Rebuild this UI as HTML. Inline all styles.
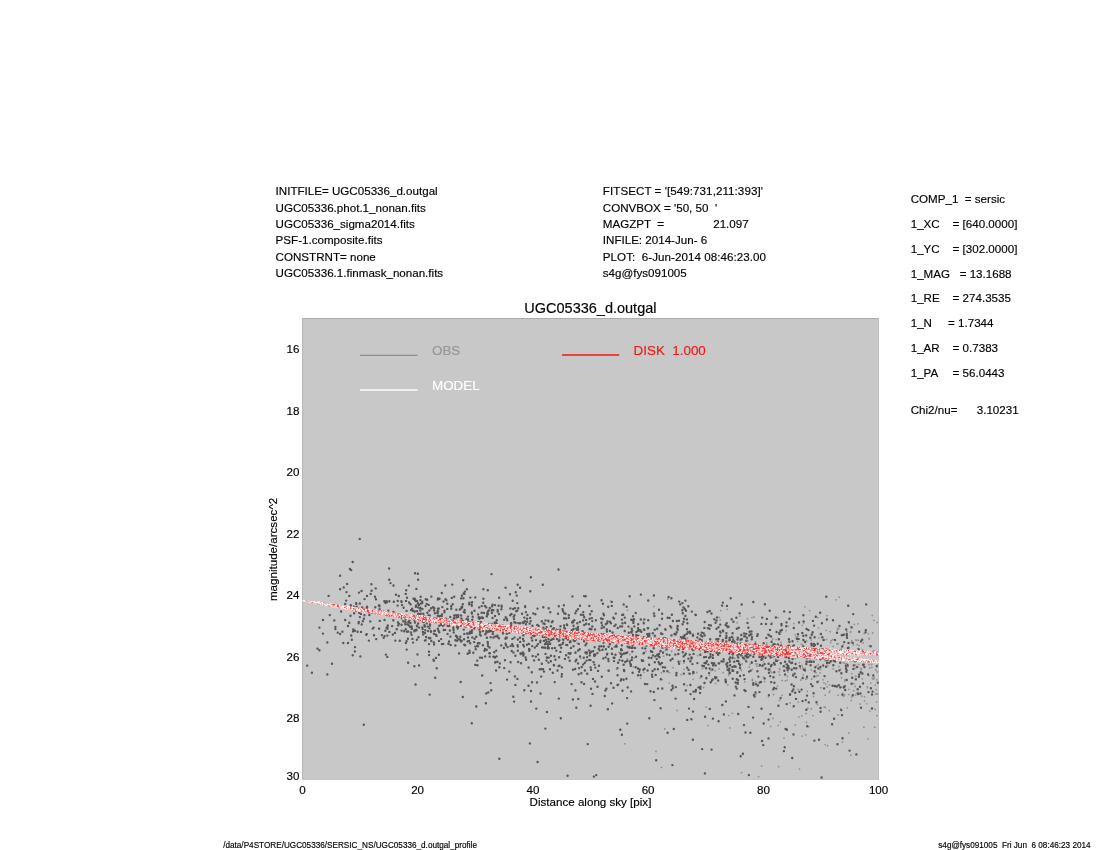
<!DOCTYPE html>
<html><head><meta charset="utf-8"><title>UGC05336_d.outgal profile</title>
<style>
html,body{margin:0;padding:0;background:#fff;}
body{width:1100px;height:850px;overflow:hidden;}
svg{display:block;}
text{font-family:"Liberation Sans",sans-serif;fill:#000;white-space:pre;stroke:#000;stroke-width:.15px;}
.t{font-size:11.6px;}
.tt{font-size:14.5px;}
.f{font-size:8.19px;}
</style></head><body>
<svg width="1100" height="850" viewBox="0 0 1100 850">
<rect x="0" y="0" width="1100" height="850" fill="#fff"/>
<text class="t" x="275.6" y="195.2" xml:space="preserve">INITFILE= UGC05336_d.outgal</text>
<text class="t" x="275.6" y="211.6" xml:space="preserve">UGC05336.phot.1_nonan.fits</text>
<text class="t" x="275.6" y="227.8" xml:space="preserve">UGC05336_sigma2014.fits</text>
<text class="t" x="275.6" y="244.2" xml:space="preserve">PSF-1.composite.fits</text>
<text class="t" x="275.6" y="260.6" xml:space="preserve">CONSTRNT= none</text>
<text class="t" x="275.6" y="276.8" xml:space="preserve">UGC05336.1.finmask_nonan.fits</text>
<text class="t" x="602.8" y="195.2" textLength="160.1" lengthAdjust="spacing" xml:space="preserve">FITSECT = '[549:731,211:393]'</text>
<text class="t" x="602.8" y="211.6" xml:space="preserve">CONVBOX = '50, 50  '</text>
<text class="t" x="602.8" y="227.8" xml:space="preserve">MAGZPT  =</text>
<text class="t" x="713.2" y="227.8">21.097</text>
<text class="t" x="602.8" y="244.2" xml:space="preserve">INFILE: 2014-Jun- 6</text>
<text class="t" x="602.8" y="260.6" textLength="163.2" lengthAdjust="spacing" xml:space="preserve">PLOT:  6-Jun-2014 08:46:23.00</text>
<text class="t" x="602.8" y="276.8" xml:space="preserve">s4g@fys091005</text>
<text class="t" x="910.7" y="202.8" xml:space="preserve">COMP_1  = sersic</text>
<text class="t" x="910.7" y="228" xml:space="preserve">1_XC    = [640.0000]</text>
<text class="t" x="910.7" y="253" xml:space="preserve">1_YC    = [302.0000]</text>
<text class="t" x="910.7" y="278" xml:space="preserve">1_MAG   = 13.1688</text>
<text class="t" x="910.7" y="302.2" xml:space="preserve">1_RE    = 274.3535</text>
<text class="t" x="910.7" y="327.0" xml:space="preserve">1_N     = 1.7344</text>
<text class="t" x="910.7" y="351.8" xml:space="preserve">1_AR    = 0.7383</text>
<text class="t" x="910.7" y="376.6">1_PA</text>
<text class="t" x="952.6" y="376.6">= 56.0443</text>
<text class="t" x="910.7" y="413.6" xml:space="preserve">Chi2/nu=      3.10231</text>
<text class="tt" x="590.4" y="312.8" text-anchor="middle">UGC05336_d.outgal</text>
<rect x="302.1" y="318.0" width="576.8" height="461.7" fill="#c8c8c8"/>
<rect x="302.1" y="318.0" width="576.8" height="1" fill="#adadad"/>
<rect x="302.1" y="318.0" width="1" height="461.7" fill="#b6b6b6"/>
<rect x="878.0" y="318.0" width="0.9" height="461.7" fill="#bebebe"/>
<rect x="302.1" y="779.0" width="576.8" height="0.7" fill="#bebebe"/>
<text class="t" x="299.5" y="353.0" text-anchor="end">16</text>
<text class="t" x="299.5" y="414.5" text-anchor="end">18</text>
<text class="t" x="299.5" y="476.0" text-anchor="end">20</text>
<text class="t" x="299.5" y="537.5" text-anchor="end">22</text>
<text class="t" x="299.5" y="599.0" text-anchor="end">24</text>
<text class="t" x="299.5" y="660.5" text-anchor="end">26</text>
<text class="t" x="299.5" y="722.0" text-anchor="end">28</text>
<text class="t" x="299.5" y="779.9" text-anchor="end">30</text>
<text class="t" x="302.4" y="794.1" text-anchor="middle">0</text>
<text class="t" x="417.6" y="794.1" text-anchor="middle">20</text>
<text class="t" x="532.9" y="794.1" text-anchor="middle">40</text>
<text class="t" x="648.1" y="794.1" text-anchor="middle">60</text>
<text class="t" x="763.4" y="794.1" text-anchor="middle">80</text>
<text class="t" x="878.6" y="794.1" text-anchor="middle">100</text>
<text class="t" x="590.5" y="806.3" text-anchor="middle">Distance along sky [pix]</text>
<text class="t" transform="translate(277.2,549.4) rotate(-90)" text-anchor="middle">magnitude/arcsec^2</text>
<line x1="360" y1="355.3" x2="417.5" y2="355.3" stroke="#8c8c8c" stroke-width="1.3"/>
<text x="432" y="355.3" style="font-size:13.4px;fill:#969696;stroke:#969696">OBS</text>
<line x1="360" y1="389.9" x2="417.5" y2="389.9" stroke="#ffffff" stroke-width="1.45"/>
<text x="432" y="390.0" style="font-size:13.4px;fill:#ffffff;stroke:#ffffff">MODEL</text>
<line x1="562" y1="355.1" x2="619.2" y2="355.1" stroke="#f01818" stroke-width="1.5"/>
<text x="633.6" y="355.3" style="font-size:13.4px;fill:#f01818;stroke:#f01818" xml:space="preserve">DISK  1.000</text>
<defs><clipPath id="pc"><rect x="302.1" y="318.0" width="576.8" height="461.7"/></clipPath></defs>
<g clip-path="url(#pc)">
<path d="M876.9 679.8h0M872.4 678.3h0M863.2 643.0h0M673.0 667.7h0M809.2 658.1h0M715.2 670.8h0M793.9 623.6h0M859.0 645.6h0M752.3 669.4h0M855.2 686.5h0M799.5 769.1h0M839.0 666.6h0M848.9 689.3h0M876.9 715.6h0M843.2 662.7h0M824.5 640.1h0M811.4 669.9h0M838.0 644.0h0M831.0 660.5h0M763.6 677.3h0M795.3 658.6h0M798.3 702.2h0M756.0 664.0h0M844.8 694.8h0M858.9 664.3h0M607.8 670.5h0M772.7 638.9h0M779.6 700.5h0M799.5 662.6h0M826.1 630.3h0M687.8 668.7h0M811.1 640.0h0M805.9 661.4h0M775.5 659.1h0M811.7 679.0h0M862.4 649.8h0M750.1 664.2h0M789.1 651.6h0M805.8 734.8h0M837.5 629.8h0M820.1 652.5h0M702.5 668.7h0M795.3 634.6h0M629.8 654.5h0M640.6 678.3h0M687.5 638.0h0M800.6 668.6h0M830.0 651.8h0M829.9 691.1h0M855.5 668.1h0M869.9 652.4h0M645.9 651.4h0M749.3 667.0h0M855.9 639.9h0M802.2 665.7h0M793.4 706.9h0M843.6 696.4h0M818.3 664.7h0M771.9 672.6h0M858.0 692.4h0M790.0 703.0h0M733.5 638.5h0M766.9 643.1h0M797.7 641.3h0M873.4 655.4h0M769.5 650.5h0M778.3 725.6h0M872.3 615.6h0M781.4 632.1h0M764.6 681.5h0M825.8 660.9h0M827.8 681.6h0M703.6 687.5h0M877.4 693.9h0M749.6 650.5h0M851.2 642.2h0M827.3 686.9h0M787.2 680.2h0M861.8 696.2h0M816.5 676.2h0M841.2 649.1h0M816.0 672.7h0M652.5 639.2h0M757.2 663.9h0M830.2 631.7h0M802.5 645.1h0M688.7 673.4h0M577.3 643.2h0M840.2 660.0h0M785.3 680.8h0M720.2 619.9h0M741.3 670.4h0M661.5 767.4h0M779.5 668.6h0M691.6 644.3h0M797.9 689.3h0M872.6 633.0h0M729.7 662.3h0M708.0 725.6h0M759.1 666.2h0M758.5 653.8h0M807.0 678.8h0M763.1 664.9h0M778.0 617.6h0M728.6 675.3h0M854.0 683.7h0M740.2 654.2h0M856.0 676.1h0M727.6 627.8h0M827.1 615.7h0M773.5 694.5h0M824.2 706.9h0M845.4 685.9h0M825.7 684.1h0M844.8 663.4h0M627.8 651.8h0M830.7 642.5h0M729.7 727.9h0M825.3 707.4h0M803.7 623.1h0M665.1 647.8h0M782.1 680.6h0M787.4 649.5h0M747.8 640.9h0M602.7 648.8h0M820.2 672.8h0M873.4 679.2h0M823.9 682.8h0M709.3 675.3h0M610.6 601.2h0M795.4 724.9h0M798.9 717.1h0M844.9 681.0h0M818.2 675.6h0M839.1 597.2h0M684.0 669.4h0M663.5 651.9h0M784.0 738.1h0M833.2 646.4h0M875.2 685.1h0M796.0 636.8h0M873.9 650.7h0M855.5 664.9h0M806.5 641.0h0M726.5 643.5h0M616.6 669.3h0M761.7 658.8h0M747.5 618.7h0M765.8 649.8h0M772.6 645.7h0M755.4 641.9h0M849.2 623.4h0M875.9 670.0h0M792.8 674.1h0M627.7 658.9h0M857.2 644.6h0M633.4 666.9h0M692.7 673.8h0M802.1 736.1h0M697.7 655.6h0M807.3 691.4h0M836.9 643.8h0M825.1 660.2h0M734.9 658.5h0M761.3 666.1h0M653.9 606.5h0M737.9 654.8h0M744.6 690.6h0M732.3 713.3h0M841.5 677.9h0M855.6 676.3h0M844.2 634.4h0M678.3 626.0h0M634.2 658.0h0M740.0 616.1h0M863.9 727.2h0M853.6 690.7h0M840.6 669.5h0M740.5 669.0h0M780.4 721.8h0M768.5 696.7h0M869.0 675.7h0M847.4 707.8h0M805.0 606.8h0M838.2 695.2h0M656.0 751.4h0M849.0 694.6h0M741.5 772.7h0M677.2 710.5h0M869.2 664.7h0M869.0 638.5h0M875.1 709.4h0M838.8 628.7h0M739.7 650.8h0M774.7 652.2h0M818.9 638.1h0M671.6 651.5h0M742.2 663.9h0M776.1 639.6h0M856.0 640.2h0M661.3 672.8h0M844.4 655.5h0M687.1 685.6h0M756.0 694.7h0M759.2 654.9h0M771.8 622.7h0M877.5 665.2h0M869.9 711.1h0M742.4 648.1h0M785.8 657.5h0M774.7 663.1h0M752.4 680.5h0M784.5 666.4h0M803.1 674.8h0M805.2 668.3h0M683.9 663.0h0M728.9 715.6h0M856.6 693.2h0M745.0 681.8h0M835.2 652.5h0M876.2 689.7h0M813.5 696.5h0M820.9 687.7h0M778.5 645.0h0M769.6 654.8h0M838.1 715.0h0M747.4 638.7h0M727.8 684.9h0M823.1 679.8h0M867.3 687.8h0M794.4 648.9h0M763.8 655.1h0M781.0 642.4h0M740.3 640.5h0M866.9 703.8h0M797.7 656.9h0M845.7 668.5h0M801.3 643.9h0M723.8 643.7h0M758.6 776.6h0M749.9 644.5h0M779.6 675.0h0M874.2 678.0h0M869.1 639.1h0M763.6 661.8h0M808.9 726.7h0M816.6 665.9h0M850.7 626.7h0M739.0 646.1h0M773.0 718.4h0M781.1 655.3h0M706.2 649.2h0M643.3 621.7h0M836.0 599.8h0M856.3 640.2h0M782.0 695.3h0M871.7 664.5h0M700.3 650.7h0M810.4 660.2h0M860.1 704.0h0M817.4 704.4h0M761.6 766.2h0M619.2 652.4h0M869.8 668.0h0M772.9 657.3h0M752.0 617.6h0M721.9 651.6h0M862.9 658.9h0M837.5 628.3h0M851.7 640.6h0M820.5 669.5h0M778.7 766.7h0M788.2 626.1h0M862.3 678.8h0M875.7 693.9h0M867.1 652.4h0M779.1 671.9h0M801.5 647.6h0M818.5 627.9h0M715.7 683.4h0M692.0 642.0h0M774.4 664.8h0M876.6 701.9h0M756.8 666.2h0M696.8 672.5h0M719.3 668.8h0M720.7 610.7h0M816.4 659.0h0M778.0 653.3h0M663.5 637.6h0M850.8 631.6h0M786.1 630.6h0M806.1 713.5h0M756.4 684.6h0M842.5 741.9h0M829.3 710.5h0M827.5 745.7h0M690.9 661.4h0M680.4 661.4h0M848.8 732.9h0M787.8 671.9h0M800.1 655.9h0M870.7 683.1h0M827.8 665.5h0M869.2 645.8h0M796.5 649.0h0M681.1 674.6h0M797.8 636.4h0M752.4 679.4h0M727.1 609.3h0M807.9 708.3h0M802.9 667.9h0M811.9 686.4h0M745.3 660.0h0M812.5 634.0h0M816.8 657.1h0M751.1 655.1h0M777.5 685.9h0M826.5 639.5h0M825.2 695.2h0M624.9 743.8h0M832.7 639.6h0M664.7 728.9h0M848.0 666.4h0M643.9 672.3h0M817.9 617.6h0M672.3 686.0h0M877.2 622.6h0M805.7 678.9h0M656.3 655.3h0M753.9 617.0h0M614.2 647.0h0M855.7 658.2h0M787.4 676.4h0M723.2 672.7h0M871.9 667.3h0M764.7 644.9h0M844.5 656.2h0M864.2 633.4h0M842.6 693.3h0M706.3 679.3h0M721.6 605.4h0M860.8 668.5h0M665.5 650.4h0M846.9 631.5h0M700.3 677.9h0M846.8 663.6h0M779.9 669.4h0M770.6 726.4h0M855.7 695.1h0M693.2 679.3h0M842.7 652.7h0M662.1 679.6h0M780.4 654.8h0M627.5 610.2h0M843.5 687.8h0M857.8 623.8h0M864.5 696.8h0M853.5 645.1h0M864.5 700.9h0M876.6 659.7h0M851.6 673.7h0M873.8 620.3h0M785.9 667.3h0M806.5 722.4h0M755.4 652.6h0M818.5 681.2h0M734.6 647.8h0M851.8 697.1h0M851.3 700.5h0M845.0 679.8h0M802.2 625.3h0M809.6 610.6h0M850.6 632.4h0M800.9 680.0h0M580.8 658.4h0M833.2 668.9h0M667.9 599.1h0M856.3 678.8h0M825.2 744.6h0M811.4 708.9h0M829.4 692.5h0M868.2 738.8h0M868.5 633.8h0M669.4 683.1h0M719.3 617.3h0M874.8 727.2h0M861.3 669.5h0M867.4 686.8h0M840.7 709.0h0M858.2 640.2h0M644.3 637.1h0M778.2 644.3h0M877.3 671.9h0M843.3 644.8h0M706.3 707.1h0M710.7 670.6h0M785.7 664.2h0M770.7 671.3h0M854.3 624.4h0M784.9 657.4h0M829.5 684.9h0M771.5 647.6h0M766.2 645.1h0M732.7 656.6h0M663.6 656.2h0M801.8 715.8h0M778.5 660.1h0M850.8 755.2h0M841.5 687.1h0M813.0 715.6h0M831.2 640.6h0M732.6 642.1h0M669.4 672.7h0M755.9 681.7h0M737.1 622.7h0" stroke="#909090" stroke-width="1.8" stroke-linecap="round" fill="none"/>
<path d="M359.7 538.9h0M352.7 562.0h0M349.9 569.0h0M351.2 570.1h0M340.1 575.8h0M347.1 584.0h0M343.7 587.4h0M340.1 589.3h0M346.5 592.1h0M328.6 595.9h0M346.1 600.6h0M345.2 604.0h0M350.8 605.3h0M341.1 611.5h0M329.8 615.1h0M323.0 620.0h0M334.3 620.4h0M345.2 620.0h0M319.4 627.6h0M335.4 627.0h0M335.4 629.1h0M323.0 633.6h0M337.7 632.6h0M340.1 634.0h0M342.4 631.7h0M348.0 626.0h0M327.3 642.4h0M343.3 643.0h0M348.0 643.0h0M351.2 635.5h0M351.8 639.8h0M317.5 648.6h0M319.4 650.2h0M352.7 655.2h0M332.0 663.7h0M307.2 665.6h0M311.9 672.7h0M327.3 674.4h0M355.0 647.1h0M349.3 595.9h0M350.5 615.7h0M349.3 622.7h0M523.0 652.4h0M545.0 644.2h0M372.7 628.6h0M787.1 664.5h0M682.4 603.1h0M505.0 660.2h0M515.0 608.1h0M548.5 621.3h0M384.3 601.3h0M660.4 651.4h0M770.0 629.9h0M504.2 619.8h0M572.5 631.4h0M703.8 647.7h0M812.6 632.3h0M592.5 693.9h0M701.7 632.6h0M692.7 642.3h0M704.0 666.3h0M441.2 623.6h0M483.0 618.0h0M395.3 640.6h0M806.6 629.0h0M541.4 669.1h0M445.5 599.3h0M490.9 630.7h0M546.9 712.0h0M623.6 679.8h0M762.5 665.7h0M559.0 630.9h0M388.4 610.8h0M531.5 637.7h0M543.9 640.9h0M675.4 634.5h0M607.0 654.5h0M532.9 635.0h0M430.0 624.4h0M630.3 636.7h0M545.5 620.4h0M632.6 647.8h0M776.2 688.6h0M472.0 630.5h0M499.7 630.2h0M854.4 659.4h0M460.3 636.7h0M794.2 656.1h0M699.8 639.1h0M746.8 654.7h0M560.8 718.3h0M442.3 607.1h0M429.7 694.6h0M537.0 682.4h0M694.1 699.0h0M463.8 629.6h0M479.3 618.7h0M830.8 661.2h0M659.3 663.8h0M632.2 630.6h0M584.1 641.2h0M601.6 628.1h0M524.1 633.8h0M647.2 634.1h0M758.4 653.9h0M585.7 596.3h0M621.9 619.6h0M489.3 623.9h0M794.0 646.1h0M479.3 629.6h0M434.1 644.6h0M861.0 707.7h0M608.8 670.7h0M437.8 615.9h0M520.2 641.9h0M643.9 629.5h0M621.9 734.7h0M863.1 683.4h0M495.0 657.5h0M488.8 610.4h0M652.6 671.0h0M576.3 707.8h0M773.9 663.0h0M591.2 651.7h0M420.8 613.7h0M410.5 623.1h0M513.1 646.0h0M615.5 654.8h0M642.3 644.3h0M843.7 634.7h0M791.2 663.1h0M714.1 663.3h0M686.9 619.4h0M381.6 613.8h0M438.7 608.5h0M810.0 655.3h0M594.2 654.4h0M491.2 690.2h0M481.3 626.8h0M553.4 635.5h0M458.5 624.0h0M562.7 643.8h0M512.7 600.7h0M698.2 640.9h0M557.5 670.5h0M733.2 670.8h0M682.3 610.2h0M426.1 637.0h0M786.9 729.7h0M717.0 617.4h0M422.9 631.9h0M682.6 624.3h0M609.9 639.7h0M634.0 619.2h0M739.8 646.7h0M460.7 682.0h0M553.8 664.9h0M755.7 660.9h0M486.3 632.7h0M651.1 639.9h0M716.4 677.5h0M624.2 671.0h0M844.5 686.4h0M589.0 650.4h0M658.3 639.4h0M853.2 614.1h0M722.3 705.0h0M366.0 610.2h0M589.6 629.0h0M794.1 668.2h0M793.5 734.4h0M826.3 596.7h0M662.3 688.5h0M497.5 636.7h0M844.2 642.1h0M621.3 679.1h0M641.3 631.7h0M737.5 639.6h0M419.8 608.3h0M509.3 671.6h0M697.4 637.4h0M437.9 628.8h0M614.0 661.1h0M426.3 620.2h0M532.5 631.5h0M569.7 660.7h0M550.9 626.2h0M419.1 665.4h0M806.0 654.4h0M587.1 657.1h0M811.3 643.7h0M601.5 600.2h0M558.5 666.1h0M483.4 589.2h0M627.2 723.6h0M692.9 641.2h0M763.7 723.5h0M512.5 629.1h0M687.1 667.6h0M659.0 654.0h0M668.6 597.0h0M691.4 658.5h0M476.3 706.5h0M514.4 622.2h0M488.1 611.2h0M472.1 602.2h0M457.0 637.5h0M618.1 684.8h0M783.5 653.9h0M451.3 608.8h0M702.3 636.5h0M864.4 667.0h0M384.6 636.1h0M525.9 612.1h0M744.8 636.2h0M527.1 644.6h0M499.9 663.4h0M859.2 674.5h0M580.0 605.8h0M548.7 608.3h0M368.9 640.6h0M755.5 692.5h0M487.9 643.8h0M531.0 701.5h0M490.6 628.1h0M749.7 652.2h0M848.2 605.8h0M853.8 665.4h0M578.7 674.2h0M774.3 656.1h0M525.1 607.1h0M763.7 651.7h0M387.0 602.1h0M524.0 646.4h0M397.1 615.7h0M725.6 624.9h0M706.9 661.2h0M701.8 640.2h0M548.8 657.6h0M482.9 645.3h0M524.3 690.2h0M474.5 610.7h0M873.3 675.5h0M833.0 620.2h0M415.6 684.5h0M841.3 710.1h0M489.5 647.5h0M678.5 661.6h0M427.2 599.8h0M459.8 609.5h0M709.1 657.8h0M640.7 675.3h0M560.5 644.9h0M718.1 654.7h0M514.5 615.2h0M571.6 684.1h0M456.5 617.6h0M575.5 652.4h0M438.3 608.9h0M689.4 632.6h0M617.8 627.9h0M626.6 606.8h0M860.6 660.1h0M606.4 688.8h0M785.9 656.5h0M449.1 641.5h0M624.9 641.8h0M824.1 688.4h0M750.7 670.6h0M641.8 660.1h0M573.5 625.7h0M583.1 620.4h0M610.0 643.9h0M447.3 603.8h0M420.4 600.1h0M761.3 659.8h0M617.6 675.2h0M737.3 672.7h0M439.7 620.0h0M387.4 635.6h0M497.4 661.8h0M616.7 638.7h0M520.5 653.4h0M709.8 649.8h0M631.6 632.5h0M811.3 661.7h0M560.0 629.6h0M542.1 647.4h0M486.2 693.4h0M701.4 676.2h0M370.7 593.9h0M823.2 665.5h0M695.9 641.0h0M540.5 640.6h0M662.3 633.9h0M844.7 658.5h0M403.3 621.2h0M491.7 610.4h0M648.2 600.5h0M738.1 680.1h0M632.1 657.4h0M847.0 637.8h0M689.8 631.6h0M515.4 655.7h0M728.6 626.8h0M744.2 636.4h0M408.3 622.0h0M529.1 648.9h0M492.6 604.8h0M766.9 618.9h0M466.9 589.3h0M489.7 656.6h0M524.6 621.6h0M478.6 617.6h0M793.8 706.1h0M733.4 621.8h0M464.3 633.9h0M367.1 607.2h0M534.1 660.4h0M685.8 653.7h0M387.5 628.7h0M848.8 622.1h0M411.8 628.3h0M786.2 626.3h0M405.4 622.2h0M575.5 652.8h0M501.4 609.2h0M617.5 685.0h0M369.3 615.0h0M722.9 630.5h0M805.7 654.7h0M459.1 653.4h0M610.7 640.9h0M449.9 630.5h0M848.5 643.0h0M720.2 643.1h0M766.7 645.4h0M682.7 613.3h0M366.2 634.7h0M826.1 666.7h0M595.0 629.5h0M748.3 645.0h0M795.6 664.0h0M442.0 614.5h0M595.6 634.0h0M453.6 629.9h0M434.9 613.2h0M627.1 660.8h0M735.6 682.5h0M554.7 682.1h0M738.0 643.5h0M461.4 618.5h0M562.5 609.2h0M596.2 638.7h0M565.5 613.8h0M746.3 661.4h0M732.2 637.3h0M709.8 611.0h0M517.3 603.1h0M727.4 665.7h0M575.4 613.2h0M841.4 673.3h0M761.5 656.8h0M638.3 641.4h0M846.8 633.9h0M729.6 637.9h0M788.2 666.3h0M712.3 643.5h0M539.6 631.1h0M572.8 638.5h0M537.9 631.0h0M629.7 596.2h0M558.8 641.0h0M686.0 610.8h0M471.6 604.7h0M781.5 624.0h0M640.8 619.5h0M493.4 656.8h0M576.7 634.3h0M481.6 612.8h0M578.0 609.1h0M801.6 689.6h0M426.7 623.4h0M484.3 627.9h0M475.7 649.2h0M768.6 719.6h0M763.2 745.1h0M793.4 689.4h0M631.7 659.9h0M491.9 612.9h0M611.9 653.8h0M614.5 657.8h0M598.7 648.9h0M572.9 621.3h0M687.4 623.2h0M842.0 715.1h0M607.5 621.4h0M730.0 661.4h0M602.1 625.4h0M463.6 593.4h0M506.8 618.7h0M617.5 668.1h0M768.8 647.2h0M510.1 631.6h0M732.4 643.7h0M379.1 628.7h0M672.6 685.8h0M676.8 621.0h0M464.6 609.9h0M753.4 684.4h0M546.7 641.6h0M648.1 628.2h0M579.1 668.1h0M650.9 651.3h0M778.4 705.8h0M360.4 656.4h0M602.6 619.0h0M691.4 648.3h0M712.0 680.2h0M809.5 654.7h0M730.7 651.6h0M759.4 657.1h0M736.1 643.9h0M842.5 738.2h0M359.0 592.6h0M782.1 651.1h0M805.0 642.0h0M546.0 629.5h0M771.6 641.8h0M683.6 656.4h0M764.9 604.3h0M722.2 605.6h0M789.4 618.7h0M578.0 627.0h0M501.7 606.8h0M574.8 641.1h0M808.3 650.5h0M712.4 669.5h0M771.6 665.0h0M842.2 646.5h0M461.5 606.9h0M768.6 663.8h0M475.3 597.4h0M817.7 643.8h0M454.0 617.9h0M543.5 623.4h0M549.4 633.3h0M766.4 637.9h0M363.8 724.8h0M608.3 658.9h0M762.1 741.0h0M486.3 631.1h0M379.8 620.9h0M593.6 662.1h0M561.6 676.6h0M649.3 718.2h0M559.4 645.3h0M469.4 602.6h0M725.5 679.7h0M429.0 651.8h0M708.4 648.1h0M523.1 623.1h0M605.7 657.4h0M455.4 645.5h0M468.8 633.5h0M587.8 744.1h0M682.9 638.8h0M785.1 661.8h0M643.5 653.4h0M492.9 624.0h0M528.6 667.5h0M520.0 637.8h0M463.9 624.5h0M488.3 692.4h0M838.7 652.3h0M823.5 640.0h0M532.0 682.2h0M789.9 612.1h0M467.6 641.5h0M447.6 625.7h0M398.9 623.7h0M496.8 620.3h0M659.0 609.8h0M737.7 683.8h0M529.0 643.9h0M611.8 601.9h0M492.8 634.0h0M545.7 632.6h0M625.9 640.3h0M416.4 629.7h0M726.4 635.8h0M622.5 690.7h0M470.4 632.2h0M484.5 650.8h0M455.4 640.2h0M655.7 674.9h0M729.5 673.2h0M612.1 654.1h0M424.9 633.0h0M430.3 638.2h0M845.2 690.0h0M793.9 686.3h0M530.7 621.1h0M581.7 667.0h0M798.0 634.2h0M483.9 612.9h0M389.4 631.9h0M363.9 618.7h0M685.4 600.6h0M817.4 651.9h0M496.6 656.4h0M679.2 601.6h0M503.9 648.0h0M416.2 605.4h0M597.9 637.6h0M418.1 607.4h0M480.8 635.6h0M793.9 645.5h0M725.9 638.1h0M674.7 645.8h0M622.0 654.5h0M359.2 612.8h0M611.0 683.3h0M758.4 676.6h0M810.4 637.8h0M739.1 663.7h0M434.1 610.5h0M624.8 617.6h0M751.8 639.2h0M660.6 708.2h0M572.4 596.4h0M671.9 614.8h0M506.8 637.8h0M554.9 647.9h0M586.1 619.9h0M429.1 655.1h0M523.0 653.6h0M856.4 660.1h0M377.9 612.6h0M635.7 613.0h0M557.5 632.2h0M537.3 624.9h0M549.6 633.1h0M654.4 700.1h0M584.1 683.9h0M631.3 619.7h0M786.7 704.1h0M819.3 649.0h0M618.1 662.8h0M683.8 673.6h0M375.2 612.6h0M514.0 619.1h0M660.8 679.2h0M614.4 626.1h0M568.8 617.9h0M751.7 662.3h0M785.1 674.5h0M385.6 602.9h0M538.8 659.8h0M658.7 639.0h0M820.5 708.0h0M678.6 649.7h0M518.3 623.1h0M851.6 683.8h0M730.2 665.3h0M769.2 635.4h0M541.2 676.6h0M647.8 628.3h0M387.4 627.1h0M537.4 630.4h0M532.2 646.1h0M401.6 630.6h0M436.6 635.9h0M550.9 655.7h0M472.3 619.8h0M723.9 714.4h0M546.2 643.0h0M417.5 654.4h0M495.0 615.9h0M516.2 611.2h0M445.9 618.7h0M648.0 635.2h0M508.9 631.8h0M729.3 659.3h0M422.4 608.9h0M537.5 608.6h0M720.1 631.7h0M448.4 643.7h0M738.4 661.2h0M457.0 627.1h0M373.6 627.6h0M652.3 676.8h0M581.3 673.2h0M760.6 651.5h0M801.4 654.3h0M768.5 738.4h0M398.2 625.4h0M745.5 691.0h0M575.6 661.3h0M740.8 643.5h0M719.6 650.3h0M840.3 687.4h0M776.0 660.8h0M638.6 629.9h0M458.7 639.1h0M724.2 650.0h0M586.6 660.6h0M510.2 615.2h0M781.1 645.5h0M441.8 593.0h0M789.4 661.5h0M542.3 631.4h0M721.4 661.4h0M523.3 635.4h0M747.0 657.0h0M410.1 626.7h0M691.4 719.3h0M485.0 648.9h0M793.8 628.0h0M839.5 626.0h0M789.0 668.3h0M521.1 663.2h0M546.9 657.5h0M682.8 652.2h0M612.5 632.5h0M438.9 654.7h0M374.0 635.3h0M732.5 670.8h0M576.4 610.9h0M623.2 614.8h0M439.3 632.3h0M648.8 657.8h0M594.7 647.2h0M778.9 639.3h0M652.8 633.2h0M692.9 650.0h0M452.1 621.1h0M397.7 600.9h0M631.2 632.0h0M413.0 610.7h0M805.6 651.3h0M631.7 628.8h0M653.7 638.9h0M661.9 662.9h0M806.3 664.0h0M750.4 732.7h0M558.8 698.6h0M759.9 665.0h0M548.5 639.2h0M464.9 591.6h0M679.1 663.8h0M441.2 624.9h0M786.5 622.4h0M740.1 676.0h0M405.3 624.3h0M707.5 612.0h0M658.2 656.0h0M450.3 616.9h0M428.7 604.9h0M715.0 677.2h0M532.7 656.0h0M371.6 590.7h0M709.7 668.5h0M559.5 665.7h0M392.8 634.5h0M375.9 599.3h0M598.6 637.7h0M657.1 645.5h0M594.2 655.8h0M496.2 650.6h0M490.6 683.1h0M757.7 634.3h0M685.4 639.1h0M710.7 682.2h0M741.3 635.0h0M566.1 655.2h0M522.7 622.5h0M476.3 636.8h0M590.9 634.6h0M387.8 625.5h0M734.5 695.4h0M395.0 632.9h0M759.6 682.6h0M607.4 638.3h0M488.2 624.9h0M467.6 653.8h0M669.5 655.1h0M812.6 686.1h0M451.8 597.9h0M464.4 593.9h0M693.7 643.0h0M570.5 642.0h0M528.6 631.5h0M649.2 664.7h0M675.3 654.6h0M427.9 626.6h0M780.4 630.7h0M698.1 633.7h0M742.1 652.8h0M515.4 684.9h0M499.1 597.8h0M422.2 603.0h0M543.3 607.3h0M750.2 655.2h0M616.5 645.5h0M846.4 671.8h0M836.8 686.5h0M761.5 708.8h0M687.0 629.3h0M827.3 660.2h0M564.0 618.2h0M682.2 637.8h0M490.7 637.3h0M690.4 685.0h0M652.0 674.6h0M809.4 661.8h0M527.1 618.7h0M437.8 599.6h0M816.5 702.2h0M762.4 659.0h0M509.2 632.9h0M831.6 655.5h0M404.2 631.2h0M370.3 621.4h0M715.0 650.5h0M408.1 662.7h0M814.3 676.4h0M424.3 616.4h0M740.6 639.5h0M538.6 625.9h0M737.0 660.9h0M491.9 609.9h0M645.2 641.8h0M714.3 619.2h0M729.8 639.9h0M573.1 622.2h0M839.3 670.4h0M550.9 661.3h0M523.3 655.5h0M518.7 630.5h0M620.8 680.6h0M683.5 607.5h0M726.9 626.2h0M522.1 613.7h0M470.2 643.2h0M731.8 637.0h0M469.1 604.3h0M629.9 637.4h0M443.5 601.5h0M375.7 588.4h0M782.3 652.6h0M540.2 642.2h0M590.7 667.4h0M588.9 637.6h0M751.4 634.3h0M477.8 643.2h0M553.1 629.0h0M446.7 620.6h0M523.1 653.9h0M803.9 669.8h0M769.0 672.7h0M545.8 639.6h0M567.2 625.1h0M656.8 659.1h0M548.5 662.6h0M552.2 648.2h0M595.8 620.3h0M820.4 667.0h0M621.7 639.8h0M643.8 623.2h0M415.0 622.5h0M649.3 635.0h0M726.3 641.4h0M659.6 625.2h0M810.8 652.3h0M872.1 658.3h0M517.3 610.6h0M573.6 629.0h0M802.7 678.0h0M549.2 641.9h0M659.5 657.3h0M645.0 684.0h0M632.9 635.0h0M770.9 666.3h0M774.3 672.2h0M814.0 645.9h0M688.6 669.9h0M447.6 633.9h0M773.4 644.4h0M463.8 611.9h0M834.9 686.0h0M852.2 677.7h0M488.2 631.6h0M718.2 653.9h0M507.2 620.3h0M433.8 642.4h0M794.7 673.6h0M370.3 610.7h0M470.3 597.6h0M578.7 643.9h0M505.6 587.8h0M401.8 618.3h0M666.8 654.4h0M472.3 637.4h0M667.4 671.3h0M379.3 605.5h0M482.9 631.1h0M389.4 601.3h0M642.6 637.7h0M622.5 642.2h0M422.3 601.6h0M439.0 640.9h0M527.1 621.8h0M414.5 620.3h0M414.7 598.6h0M545.6 629.2h0M459.8 639.5h0M820.6 711.8h0M768.3 634.6h0M473.4 626.0h0M559.5 640.1h0M820.5 658.0h0M764.6 678.4h0M482.0 657.7h0M677.6 625.9h0M595.4 667.6h0M846.7 670.1h0M738.2 657.5h0M533.8 636.1h0M768.6 669.5h0M747.5 623.0h0M766.0 624.0h0M536.3 708.6h0M744.4 690.1h0M744.1 633.4h0M663.0 652.7h0M510.0 594.2h0M849.6 750.6h0M485.3 634.2h0M477.2 645.9h0M712.8 655.3h0M711.5 613.5h0M566.3 644.9h0M665.3 629.3h0M361.6 591.0h0M593.2 651.1h0M538.7 631.3h0M495.3 636.4h0M700.0 644.7h0M785.0 647.5h0M855.8 679.4h0M822.3 637.3h0M872.0 694.5h0M629.8 661.5h0M777.9 644.8h0M406.0 600.9h0M702.8 645.5h0M586.2 623.7h0M550.3 612.2h0M829.3 662.7h0M791.3 652.2h0M588.1 633.9h0M371.4 584.3h0M428.9 638.0h0M745.4 656.0h0M753.3 602.0h0M693.6 672.5h0M552.8 629.3h0M438.0 608.7h0M769.7 610.7h0M438.1 618.5h0M516.8 595.6h0M858.1 694.0h0M848.5 647.8h0M489.6 631.6h0M858.9 676.8h0M792.5 641.3h0M518.2 608.2h0M705.1 652.0h0M543.4 627.6h0M489.4 653.2h0M787.0 667.8h0M480.8 622.0h0M748.7 653.9h0M514.1 701.6h0M716.3 639.2h0M532.4 625.8h0M810.6 665.2h0M704.4 643.5h0M569.9 642.3h0M703.6 633.2h0M793.2 646.1h0M748.9 775.1h0M743.1 657.7h0M722.7 641.3h0M497.4 635.7h0M464.9 612.6h0M707.9 628.1h0M523.7 654.0h0M425.8 599.3h0M776.9 660.9h0M411.0 610.1h0M651.4 658.0h0M462.7 620.8h0M761.5 650.1h0M575.6 633.0h0M563.1 611.3h0M471.8 723.2h0M857.7 689.2h0M603.9 627.2h0M591.7 611.3h0M564.5 633.9h0M583.3 615.0h0M456.3 609.8h0M745.5 732.5h0M730.7 598.2h0M732.0 642.0h0M684.9 655.1h0M376.2 639.1h0M591.9 618.1h0M433.8 660.8h0M770.2 649.2h0M420.4 607.7h0M485.3 627.2h0M725.9 701.4h0M737.5 655.4h0M359.8 603.5h0M551.9 639.4h0M633.4 621.0h0M680.9 637.1h0M480.8 617.8h0M407.6 624.2h0M660.4 664.4h0M583.8 657.8h0M563.1 642.8h0M478.9 617.2h0M385.9 654.6h0M559.0 637.2h0M685.8 690.4h0M774.4 682.8h0M479.2 607.4h0M688.3 606.3h0M433.5 659.7h0M725.7 681.2h0M438.5 630.8h0M834.1 718.7h0M784.2 611.4h0M665.1 667.4h0M505.8 637.7h0M744.1 658.4h0M417.1 601.3h0M578.3 698.9h0M538.1 654.5h0M406.2 590.2h0M753.3 684.7h0M356.6 606.8h0M716.5 628.7h0M673.8 729.0h0M792.5 659.1h0M710.5 656.7h0M847.9 648.0h0M485.6 624.2h0M585.5 645.3h0M748.2 646.9h0M474.2 628.5h0M525.6 657.4h0M632.3 620.0h0M517.7 584.8h0M437.6 611.3h0M635.7 667.3h0M860.9 641.4h0M503.9 628.0h0M872.6 691.6h0M713.6 648.3h0M488.0 614.3h0M462.8 697.0h0M663.3 638.7h0M386.6 601.2h0M542.8 584.8h0M714.0 650.1h0M446.4 600.2h0M586.6 653.6h0M842.5 694.7h0M471.8 632.7h0M705.1 663.1h0M436.0 657.9h0M700.1 692.9h0M554.1 665.4h0M470.2 631.8h0M858.6 648.9h0M425.6 606.1h0M411.5 634.7h0M502.8 631.7h0M468.0 637.5h0M689.7 673.7h0M792.1 662.7h0M583.1 635.6h0M414.8 611.5h0M474.1 642.1h0M599.3 646.5h0M390.5 583.1h0M628.5 626.6h0M806.9 649.9h0M595.0 681.5h0M590.8 629.0h0M605.8 624.2h0M695.8 615.0h0M635.0 647.9h0M670.6 660.3h0M741.7 604.5h0M826.9 619.5h0M396.0 594.7h0M583.5 637.5h0M846.2 629.5h0M475.4 646.6h0M466.6 618.9h0M471.8 612.4h0M704.1 657.3h0M438.1 611.4h0M591.4 629.2h0M425.3 630.3h0M425.0 618.0h0M818.4 668.5h0M590.5 660.1h0M700.4 688.7h0M847.6 665.3h0M362.2 607.5h0M573.5 646.3h0M622.2 614.9h0M698.5 687.4h0M454.2 596.8h0M652.4 642.9h0M545.3 647.7h0M680.7 646.4h0M602.6 636.8h0M692.9 739.7h0M475.3 664.9h0M567.8 639.6h0M541.8 663.8h0M420.0 619.3h0M424.4 625.2h0M393.8 601.7h0M722.8 640.0h0M605.9 649.3h0M791.7 669.8h0M723.1 650.3h0M487.3 612.7h0M662.1 613.7h0M496.0 622.6h0M443.9 624.7h0M726.3 664.3h0M862.2 639.8h0M572.1 634.3h0M381.9 635.1h0M718.7 663.4h0M735.6 666.8h0M647.2 684.1h0M716.6 652.7h0M774.0 687.9h0M453.4 627.4h0M402.0 605.1h0M425.6 640.2h0M479.5 643.3h0M632.9 639.7h0M505.7 617.2h0M675.7 634.4h0M489.9 653.2h0M757.9 685.5h0M515.6 622.7h0M399.8 640.8h0M813.6 693.3h0M415.8 601.0h0M630.9 664.8h0M389.8 615.3h0M469.5 652.8h0M727.0 605.9h0M408.1 631.5h0M499.3 758.8h0M420.7 617.9h0M747.1 657.5h0M398.0 622.4h0M504.2 628.5h0M408.9 585.6h0M441.8 615.9h0M576.5 639.3h0M414.4 666.3h0M601.2 634.1h0M728.9 670.6h0M530.9 577.2h0M431.0 631.7h0M443.7 630.0h0M654.8 662.2h0M671.4 690.0h0M492.6 617.9h0M410.9 632.4h0M568.6 636.8h0M749.3 635.5h0M697.4 663.1h0M529.6 649.6h0M814.4 740.6h0M708.4 664.6h0M592.2 621.1h0M763.7 643.2h0M405.7 629.2h0M771.2 682.1h0M457.2 636.7h0M515.7 592.3h0M738.2 714.0h0M408.6 625.3h0M625.2 662.0h0M462.2 606.9h0M580.0 656.5h0M783.7 666.3h0M469.7 633.2h0M552.8 672.7h0M458.9 623.4h0M640.1 630.1h0M770.5 714.1h0M751.8 662.8h0M428.4 615.4h0M575.5 633.7h0M622.4 660.7h0M356.0 610.6h0M487.2 614.6h0M669.5 618.0h0M746.3 633.9h0M496.1 670.5h0M585.4 652.5h0M771.4 624.1h0M876.7 666.3h0M481.7 606.1h0M512.2 644.3h0M397.6 605.6h0M604.8 696.0h0M849.0 656.7h0M663.8 671.3h0M860.7 672.2h0M576.2 628.6h0M806.8 661.7h0M799.0 622.4h0M563.9 605.2h0M644.0 653.0h0M545.1 630.8h0M662.8 667.3h0M564.3 627.9h0M367.0 595.9h0M823.0 655.9h0M603.4 613.6h0M489.8 608.0h0M543.5 631.2h0M784.3 670.8h0M364.4 615.3h0M472.7 616.8h0M642.2 660.9h0M454.3 615.5h0M555.5 635.6h0M865.8 630.1h0M418.2 613.7h0M438.1 615.8h0M706.1 668.3h0M558.2 632.7h0M723.6 659.3h0M740.0 665.0h0M710.4 654.3h0M590.1 614.3h0M529.9 743.4h0M833.3 665.2h0M715.6 665.4h0M765.6 657.8h0M704.4 627.9h0M567.6 775.8h0M676.0 640.2h0M768.9 695.1h0M520.1 623.2h0M803.3 646.4h0M837.5 744.2h0M431.3 641.0h0M577.3 623.3h0M761.0 682.0h0M584.9 662.8h0M736.4 617.7h0M465.6 626.6h0M577.0 638.2h0M806.4 709.7h0M415.3 599.7h0M709.8 708.9h0M741.7 639.2h0M780.8 663.3h0M821.9 623.2h0M735.8 686.6h0M424.7 625.9h0M450.6 645.0h0M601.8 676.8h0M832.1 724.3h0M684.2 637.5h0M711.0 650.9h0M596.2 775.1h0M437.3 613.1h0M425.0 626.5h0M493.6 630.5h0M438.1 598.4h0M426.7 603.9h0M517.8 646.6h0M418.1 579.8h0M712.9 718.6h0M638.2 624.2h0M542.2 647.4h0M863.8 655.0h0M643.4 669.8h0M709.1 673.1h0M378.9 605.4h0M357.6 631.7h0M662.5 647.8h0M790.0 694.8h0M815.3 667.2h0M860.4 693.5h0M868.1 674.4h0M495.0 605.1h0M680.2 604.4h0M734.2 661.8h0M427.4 612.8h0M662.0 618.8h0M647.2 642.6h0M360.9 613.9h0M480.0 657.6h0M401.6 602.0h0M469.7 652.4h0M590.6 705.7h0M448.0 619.6h0M693.6 653.9h0M621.9 650.2h0M523.3 644.9h0M578.1 663.4h0M693.2 673.0h0M383.7 637.8h0M729.3 668.7h0M704.5 683.0h0M354.9 630.8h0M457.2 640.7h0M492.8 628.0h0M563.4 639.8h0M638.1 675.2h0M616.7 646.6h0M704.7 635.4h0M780.6 698.1h0M606.9 631.6h0M865.6 632.3h0M773.5 677.3h0M732.6 658.0h0M545.5 653.9h0M354.9 608.0h0M807.0 676.8h0M413.5 598.7h0M354.9 651.4h0M520.1 587.8h0M807.2 726.2h0M456.2 615.3h0M621.0 656.7h0M498.6 605.7h0M450.4 636.6h0M757.3 635.9h0M838.9 654.7h0M505.5 638.8h0M736.8 628.8h0M540.9 634.5h0M461.9 595.8h0M696.7 641.3h0M385.0 601.9h0M704.9 649.7h0M740.0 667.7h0M494.7 656.9h0M808.5 630.1h0M517.9 639.5h0M527.0 644.8h0M577.3 630.4h0M827.0 663.0h0M665.5 629.8h0M358.8 621.9h0M527.8 633.7h0M707.0 651.2h0M458.1 627.1h0M654.7 669.2h0M523.8 622.5h0M464.7 624.8h0M543.7 647.6h0M802.7 652.7h0M551.0 640.1h0M760.5 682.1h0M552.7 621.1h0M761.4 623.9h0M407.9 638.8h0M584.2 625.0h0M354.1 613.3h0M546.7 627.1h0M624.0 670.0h0M621.1 649.3h0M813.7 644.0h0M675.8 687.1h0M546.9 657.7h0M632.3 651.6h0M572.1 622.5h0M564.1 625.5h0M566.1 618.5h0M593.1 638.0h0M468.3 621.5h0M707.7 651.5h0M691.8 657.8h0M691.4 657.4h0M517.8 650.7h0M606.8 629.4h0M639.7 669.5h0M653.0 655.5h0M748.4 627.7h0M695.7 691.5h0M493.5 637.5h0M787.6 669.9h0M788.9 639.2h0M805.8 700.1h0M366.7 634.2h0M416.4 630.2h0M499.3 667.2h0M584.1 596.1h0M737.4 672.2h0M674.5 633.9h0M720.1 635.8h0M855.1 661.2h0M789.4 641.7h0M467.1 633.5h0M620.7 641.6h0M812.9 620.9h0M535.4 614.3h0M433.9 633.7h0M619.1 637.7h0M779.5 633.9h0M686.7 633.9h0M582.6 631.3h0M486.3 607.4h0M418.9 604.9h0M709.0 625.1h0M452.3 584.6h0M620.5 653.5h0M431.2 608.2h0M452.7 604.2h0M792.3 691.2h0M652.2 651.9h0M763.1 655.0h0M693.3 671.9h0M715.9 647.2h0M379.5 606.2h0M485.7 627.8h0M595.3 654.7h0M732.4 667.1h0M409.8 619.3h0M875.8 659.8h0M841.8 635.3h0M621.9 645.2h0M602.9 603.8h0M820.9 634.0h0M654.8 635.7h0M807.0 695.6h0M684.8 609.0h0M421.8 618.4h0M690.4 633.2h0M364.5 599.1h0M420.3 610.6h0M768.1 655.3h0M736.8 679.2h0M733.1 640.1h0M560.4 651.9h0M510.6 646.1h0M581.5 682.3h0M692.3 647.0h0M410.5 604.3h0M811.8 655.9h0M433.1 607.2h0M478.0 646.2h0M833.7 660.8h0M725.9 682.2h0M511.3 623.8h0M601.5 646.2h0M469.8 633.5h0M424.9 640.6h0M485.2 656.4h0M567.3 645.1h0M405.7 593.9h0M498.9 614.0h0M582.5 633.0h0M690.3 661.3h0M613.3 617.7h0M730.7 647.9h0M821.6 777.5h0M488.0 646.1h0M693.0 711.6h0M445.1 629.9h0M727.6 669.7h0M407.9 616.2h0M558.3 630.2h0M718.5 627.3h0M597.4 653.1h0M742.9 753.8h0M814.6 637.3h0M546.4 636.7h0M796.4 668.3h0M464.3 644.7h0M434.3 630.9h0M798.6 638.9h0M560.3 633.3h0M805.3 656.4h0M857.2 667.0h0M725.6 650.2h0M482.2 675.5h0M778.0 656.9h0M636.4 631.9h0M453.4 628.7h0M667.6 617.7h0M650.5 691.2h0M406.6 641.1h0M700.8 635.2h0M586.9 634.2h0M678.3 654.0h0M711.9 663.0h0M528.5 685.7h0M769.4 669.5h0M863.2 654.2h0M605.4 690.5h0M660.8 645.1h0M611.0 623.2h0M671.6 644.3h0M529.2 650.7h0M792.2 758.0h0M660.6 651.0h0M554.4 656.3h0M550.2 643.9h0M406.6 610.9h0M667.6 732.8h0M702.1 749.1h0M822.9 649.5h0M551.9 622.3h0M638.1 630.7h0M832.6 685.7h0M594.5 664.6h0M604.0 634.3h0M723.1 631.3h0M773.2 689.4h0M471.9 613.6h0M661.0 633.5h0M852.7 642.9h0M774.8 664.4h0M362.8 621.3h0M794.4 648.8h0M840.2 662.7h0M512.4 638.9h0M416.9 639.8h0M783.9 751.1h0M473.3 652.7h0M786.7 657.1h0M525.1 606.2h0M517.6 645.1h0M497.7 609.9h0M424.1 621.7h0M706.4 677.9h0M755.3 644.0h0M598.0 670.9h0M408.9 622.0h0M748.3 657.0h0M396.8 629.3h0M589.0 624.3h0M480.1 632.0h0M720.2 624.6h0M506.8 633.8h0M501.3 645.4h0M589.1 637.6h0M407.1 631.7h0M435.2 677.8h0M553.8 628.1h0M687.2 719.9h0M514.5 637.6h0M587.2 673.8h0M604.0 615.3h0M811.1 684.1h0M549.5 634.8h0M568.8 615.2h0M736.7 688.6h0M550.0 669.2h0M685.4 615.9h0M389.1 568.5h0M570.2 653.8h0M663.3 644.3h0M612.1 703.4h0M461.7 640.7h0M534.6 635.8h0M584.9 670.5h0M375.3 607.3h0M511.5 614.0h0M696.5 641.6h0M739.8 650.2h0M587.0 652.5h0M591.0 669.9h0M776.6 632.0h0M705.9 663.2h0M405.6 619.5h0M586.4 635.4h0M730.4 644.4h0M732.6 633.2h0M653.8 692.0h0M870.9 688.3h0M639.3 637.1h0M764.6 664.1h0M609.9 644.2h0M353.3 629.4h0M754.2 647.6h0M461.2 598.4h0M735.6 644.6h0M536.0 640.1h0M443.8 622.9h0M403.6 607.7h0M494.8 622.5h0M718.2 680.5h0M359.9 617.1h0M824.5 676.1h0M515.2 629.3h0M414.3 631.2h0M447.3 608.9h0M629.1 647.0h0M533.3 613.4h0M526.0 624.2h0M672.4 765.1h0M478.1 614.4h0M702.3 665.8h0M576.2 635.7h0M496.9 623.9h0M630.3 663.7h0M805.0 670.4h0M754.6 696.6h0M561.9 674.2h0M458.2 616.7h0M759.5 692.1h0M732.7 678.8h0M568.6 653.2h0M774.7 644.1h0M511.1 623.2h0M804.1 654.7h0M855.3 653.5h0M583.2 612.1h0M497.5 628.4h0M741.4 655.6h0M659.1 645.4h0M573.0 669.8h0M737.1 649.1h0M611.8 605.9h0M573.5 634.1h0M594.4 656.1h0M622.1 626.4h0M361.7 624.4h0M607.3 653.6h0M736.2 647.8h0M644.3 629.8h0M441.1 639.1h0M415.1 573.2h0M732.9 653.8h0M648.2 620.2h0M697.4 647.9h0M420.7 596.8h0M579.9 621.9h0M548.0 646.7h0M560.5 626.3h0M846.0 668.2h0M523.0 638.9h0M486.8 616.4h0M599.6 650.4h0M803.4 615.2h0M594.1 637.8h0M777.7 644.8h0M676.7 632.3h0M416.9 625.8h0M653.8 648.3h0M524.9 621.3h0M568.5 633.6h0M418.2 623.5h0M513.7 616.8h0M660.6 642.6h0M434.9 630.7h0M454.0 618.2h0M527.4 615.0h0M561.1 647.7h0M576.4 659.7h0M711.0 644.4h0M541.8 621.3h0M446.0 621.1h0M638.3 635.7h0M489.4 631.1h0M641.8 638.6h0M534.8 647.6h0M719.5 652.9h0M439.3 625.8h0M784.6 655.7h0M748.5 706.9h0M868.5 692.1h0M695.9 690.0h0M405.9 643.0h0M710.9 644.0h0M536.7 645.9h0M439.4 616.6h0M621.1 650.0h0M479.9 634.4h0M643.6 637.2h0M789.2 654.3h0M428.1 631.1h0M799.8 666.1h0M713.4 664.2h0M520.6 654.0h0M564.3 613.4h0M565.0 628.4h0M526.1 659.8h0M634.3 626.4h0M414.7 630.2h0M566.9 624.5h0M723.5 661.4h0M429.4 610.5h0M548.1 644.5h0M779.3 632.9h0M622.5 623.2h0M564.9 658.9h0M644.5 668.8h0M513.2 609.0h0M859.2 631.8h0M636.2 637.7h0M407.0 597.8h0M716.6 620.4h0M358.6 623.3h0M757.4 671.2h0M561.9 667.4h0M710.2 639.3h0M608.5 661.1h0M589.6 618.7h0M630.8 665.9h0M609.9 621.8h0M530.3 591.2h0M693.5 691.6h0M393.1 614.8h0M793.1 675.5h0M514.9 676.4h0M734.5 641.8h0M417.9 573.8h0M469.4 650.7h0M496.7 620.5h0M647.6 670.5h0M738.8 627.8h0M503.1 633.4h0M676.5 673.0h0M781.5 625.3h0M495.3 662.3h0M356.3 603.9h0M796.0 698.9h0M513.3 696.7h0M786.4 647.3h0M737.8 682.8h0M549.0 648.1h0M491.5 624.7h0M656.2 760.2h0M487.8 590.2h0M486.7 649.8h0M477.2 660.6h0M535.9 656.6h0M593.9 776.6h0M632.6 672.7h0M704.6 643.6h0M646.4 645.7h0M635.0 638.7h0M837.0 632.8h0M578.2 650.5h0M727.4 662.9h0M815.8 616.8h0M749.0 671.6h0M477.5 665.3h0M409.5 620.6h0M870.7 646.2h0M564.2 637.6h0M771.1 636.5h0M835.0 639.9h0M704.7 622.0h0M601.1 618.5h0M672.9 621.0h0M645.3 648.4h0M684.0 618.7h0M558.5 569.5h0M695.4 614.7h0M387.3 656.9h0M744.0 725.1h0M353.8 606.7h0M629.1 643.4h0M802.5 701.1h0M678.5 645.7h0M484.0 626.0h0M615.8 613.6h0M558.0 613.7h0M583.2 664.4h0M720.6 632.5h0M789.2 647.0h0M836.4 671.2h0M531.8 672.3h0M780.7 646.6h0M411.6 626.4h0M416.4 588.9h0M624.0 653.5h0M570.9 647.9h0M658.0 688.6h0M471.8 605.7h0M872.0 708.5h0M613.5 687.7h0M755.8 649.8h0M819.0 739.7h0M654.0 613.4h0M393.3 620.2h0M729.3 653.5h0M461.1 615.5h0M649.4 633.7h0M431.0 631.2h0M491.7 623.9h0M511.7 651.0h0M687.7 632.3h0M545.4 728.6h0M419.5 614.6h0M356.2 603.1h0M460.7 625.6h0M570.6 653.1h0M740.6 654.4h0M593.0 678.9h0M821.0 645.7h0M520.7 628.1h0M682.9 648.9h0M828.2 657.3h0M443.2 643.9h0M790.1 694.3h0M654.4 616.0h0M553.4 638.9h0M498.9 638.3h0M628.5 647.4h0M441.9 644.1h0M393.4 612.0h0M468.0 619.4h0M367.0 606.7h0M758.7 646.2h0M631.1 691.4h0M575.2 669.0h0M635.8 639.5h0M752.0 637.1h0M763.3 656.8h0M609.9 630.9h0M491.5 574.1h0M846.7 679.9h0M632.5 645.3h0M607.1 623.2h0M615.5 646.5h0M423.1 634.4h0M537.7 630.5h0M611.9 648.8h0M546.7 643.6h0M860.0 686.8h0M665.2 638.1h0M633.5 641.3h0M690.6 694.1h0M497.7 611.5h0M495.2 662.5h0M463.5 598.2h0M727.2 666.7h0M820.2 612.7h0M603.9 646.5h0M613.6 657.8h0M806.2 635.4h0M599.0 665.8h0M620.2 626.4h0M439.5 598.8h0M594.6 636.7h0M730.0 672.7h0M389.2 579.8h0M487.7 642.0h0M589.7 655.4h0M624.7 631.0h0M575.4 690.4h0M813.7 661.7h0M557.0 639.0h0M729.3 640.3h0M657.4 641.7h0M789.0 658.3h0M806.8 658.4h0M753.1 717.6h0M415.1 600.2h0M803.3 635.8h0M863.7 664.8h0M648.2 636.1h0M671.5 635.4h0M469.9 625.1h0M409.1 602.5h0M478.3 622.1h0M546.5 660.6h0M448.1 621.4h0M601.5 622.8h0M667.5 643.8h0M683.6 621.7h0M470.3 624.6h0M539.7 669.3h0M483.2 602.8h0M709.5 642.9h0M544.6 624.0h0M660.3 643.8h0M689.0 708.6h0M835.2 661.4h0M500.7 628.3h0M538.7 633.5h0M620.3 729.7h0M398.8 596.0h0M615.7 624.6h0M791.6 684.5h0M639.1 671.8h0M691.8 611.6h0M532.2 640.5h0M722.9 602.6h0M677.3 628.3h0M655.4 656.4h0M692.4 664.1h0M638.0 668.5h0M636.1 656.8h0M524.4 617.6h0M573.7 640.5h0M435.9 634.8h0M863.1 664.7h0M513.5 652.6h0M679.0 620.7h0M627.0 652.8h0M800.1 666.6h0M725.7 644.8h0M537.6 762.0h0M696.2 645.4h0M501.6 605.8h0M493.4 610.3h0M750.5 634.5h0M712.9 657.9h0M814.9 645.0h0M614.1 618.6h0M704.9 773.4h0M862.4 673.5h0M392.1 626.1h0M753.3 656.7h0M692.2 643.7h0M672.5 658.7h0M693.0 635.8h0M544.0 671.6h0M686.4 645.2h0M640.5 631.2h0M683.3 636.6h0M505.6 643.8h0M385.4 630.7h0M556.8 629.7h0M684.0 661.0h0M628.8 637.4h0M429.8 615.4h0M843.9 687.2h0M694.1 649.4h0M574.3 620.2h0M626.4 678.7h0M422.6 629.0h0M731.7 619.3h0M510.6 662.2h0M633.0 616.3h0M506.0 645.2h0M730.2 657.5h0M430.0 625.6h0M700.5 686.7h0M482.0 617.5h0M484.9 606.0h0M578.1 629.5h0M544.4 636.9h0M688.4 658.6h0M548.3 620.8h0M463.2 580.2h0M365.9 609.7h0M811.7 634.8h0M429.5 628.4h0M654.7 629.8h0M789.1 645.6h0M644.3 619.4h0M782.5 654.7h0M513.4 627.7h0M613.9 636.7h0M846.8 635.4h0M657.3 654.8h0M451.2 606.2h0M643.1 660.8h0M739.1 653.9h0M439.2 622.7h0M627.1 698.1h0M803.4 640.0h0M566.2 638.0h0M468.0 616.6h0M726.7 623.3h0M711.6 749.6h0M753.9 695.0h0M851.7 627.4h0M709.4 628.7h0M770.7 657.6h0M811.7 645.6h0M795.2 692.7h0M423.4 622.0h0M568.5 657.4h0M636.3 634.9h0M715.3 678.2h0M638.1 628.2h0M401.5 624.8h0M746.3 640.8h0M803.6 621.4h0M588.6 635.4h0M558.8 606.3h0M542.9 636.9h0M504.2 668.1h0M386.6 627.8h0M375.0 596.7h0M444.5 610.7h0M666.7 649.4h0M693.1 634.7h0M676.3 675.3h0M449.1 625.9h0M571.9 630.3h0M811.0 656.1h0M677.8 629.7h0M631.5 647.7h0M517.4 678.9h0M852.8 695.2h0M437.7 613.1h0M418.1 603.5h0M740.7 756.3h0M442.9 625.7h0M649.6 637.3h0M455.9 635.8h0M756.0 684.1h0M619.5 660.1h0M718.4 638.9h0M510.9 625.5h0M684.7 635.3h0M603.3 658.4h0M620.9 640.1h0M474.6 638.8h0M494.2 652.3h0M412.1 608.6h0M705.1 716.8h0M817.4 682.0h0M483.4 598.7h0M597.5 686.7h0M654.0 641.8h0M563.1 638.9h0M719.1 663.4h0M653.9 595.5h0M461.0 641.5h0M486.9 637.8h0M808.8 702.4h0M589.4 605.9h0M710.5 646.9h0M785.6 729.0h0M453.7 632.5h0M629.7 647.5h0M715.6 622.7h0M523.7 641.0h0M602.4 649.9h0M589.2 659.9h0M770.2 676.1h0M556.3 650.6h0M574.3 632.3h0M732.4 670.3h0M765.6 668.5h0M385.9 601.4h0M592.3 626.5h0M820.4 659.2h0M419.1 627.6h0M874.1 658.8h0M361.0 631.9h0M710.9 643.6h0M417.2 626.2h0M814.6 671.3h0M510.4 608.4h0M469.2 633.6h0M692.3 649.0h0M706.0 656.9h0M684.1 684.3h0M762.2 617.6h0M632.9 643.4h0M465.2 645.2h0M462.8 604.3h0M657.2 628.7h0M623.7 604.5h0M415.8 606.7h0M507.6 647.1h0M547.9 648.4h0M856.4 754.4h0M521.0 653.5h0M571.2 631.1h0M445.3 585.5h0M458.3 615.2h0M695.8 648.3h0M713.1 665.4h0M814.1 625.6h0M718.6 721.3h0M640.9 594.6h0M429.0 644.1h0M779.5 652.8h0M642.5 648.1h0M444.4 612.3h0M436.7 668.2h0M775.9 617.5h0M529.7 623.5h0M732.7 654.4h0M464.1 639.2h0M434.3 608.2h0M754.4 654.0h0M456.6 623.6h0M542.7 631.4h0M623.7 664.7h0M570.3 641.3h0M469.1 640.9h0M796.9 638.8h0M743.8 675.1h0M672.9 688.1h0M412.4 638.9h0M749.7 631.7h0M657.9 669.3h0M734.3 666.3h0M608.6 646.8h0M759.8 646.5h0M633.4 622.9h0M393.5 585.5h0M845.9 665.8h0M572.9 699.5h0M853.4 668.9h0M353.1 631.4h0M413.1 642.6h0M628.8 632.8h0M401.4 601.3h0M877.8 682.6h0M411.8 628.9h0M670.2 626.1h0M649.2 640.0h0M871.1 659.4h0M739.6 613.3h0M457.8 628.5h0M537.9 644.1h0M675.6 698.6h0M802.3 632.9h0M431.4 596.6h0M671.4 598.2h0M485.9 703.3h0M584.2 617.2h0M418.5 637.2h0M543.1 669.2h0M726.4 633.1h0M787.9 646.2h0M531.0 691.0h0M540.5 693.5h0M648.9 636.4h0M607.9 709.3h0M717.9 641.4h0M552.6 636.5h0M384.5 620.0h0M838.8 685.2h0M658.6 661.9h0M627.7 687.4h0M770.1 653.2h0M795.9 677.1h0M591.0 688.7h0M613.4 642.1h0M625.5 653.3h0M603.5 642.7h0M492.9 631.8h0M477.9 625.4h0M406.7 649.6h0M379.6 609.1h0M417.0 611.1h0M503.0 625.3h0M461.5 608.2h0M625.1 622.7h0M518.2 662.0h0M608.2 606.8h0M704.5 663.0h0M665.7 639.7h0M700.3 654.8h0M744.6 679.1h0M590.0 653.0h0M492.1 606.2h0M781.9 629.9h0M579.8 649.2h0M726.4 637.8h0M712.7 679.4h0M521.5 630.8h0M581.0 614.7h0M507.5 626.2h0M729.7 651.4h0M420.9 617.4h0M627.6 646.6h0M619.8 640.9h0M689.7 654.6h0M784.7 747.2h0M558.2 630.6h0M383.4 611.6h0M671.2 627.4h0M710.9 625.4h0M793.3 649.6h0M559.1 657.3h0M736.5 646.4h0M555.4 659.7h0M594.0 635.4h0M530.1 617.9h0M649.5 644.6h0M746.8 637.6h0M751.5 631.4h0M799.3 691.8h0M587.2 639.2h0M548.5 630.0h0M495.0 624.5h0M507.1 679.6h0M420.8 603.6h0M586.5 643.4h0M366.7 607.9h0M423.3 613.7h0M866.2 604.4h0M422.4 627.5h0M440.2 615.9h0M753.3 683.1h0M770.2 656.6h0M737.8 637.8h0" stroke="#565656" stroke-width="2.4" stroke-linecap="round" fill="none"/>
<filter id="bl" x="-2%" y="-20%" width="104%" height="140%"><feGaussianBlur stdDeviation="0.45"/></filter>
<g filter="url(#bl)">
<polygon points="302.0,600.1 306.0,600.4 310.0,600.9 314.0,601.4 318.0,602.0 322.0,602.5 326.0,603.1 330.0,603.7 334.0,604.2 338.0,604.8 342.0,605.4 346.0,605.9 350.0,606.5 354.0,607.1 358.0,607.6 362.0,608.2 366.0,608.7 370.0,609.2 374.0,609.8 378.0,610.3 382.0,610.8 386.0,611.4 390.0,611.9 394.0,612.4 398.0,612.9 402.0,613.4 406.0,613.9 410.0,614.4 414.0,614.9 418.0,615.4 422.0,615.9 426.0,616.4 430.0,616.9 434.0,617.3 438.0,617.8 442.0,618.3 446.0,618.7 450.0,619.2 454.0,619.6 458.0,620.1 462.0,620.5 466.0,620.9 470.0,621.4 474.0,621.8 478.0,622.2 482.0,622.7 486.0,623.1 490.0,623.5 494.0,623.9 498.0,624.3 502.0,624.7 506.0,625.1 510.0,625.5 514.0,625.9 518.0,626.3 522.0,626.7 526.0,627.0 530.0,627.4 534.0,627.8 538.0,628.2 542.0,628.5 546.0,628.9 550.0,629.2 554.0,629.6 558.0,630.0 562.0,630.3 566.0,630.7 570.0,631.0 574.0,631.3 578.0,631.7 582.0,632.0 586.0,632.3 590.0,632.7 594.0,633.0 598.0,633.3 602.0,633.6 606.0,634.0 610.0,634.3 614.0,634.6 618.0,634.9 622.0,635.2 626.0,635.5 630.0,635.8 634.0,636.1 638.0,636.4 642.0,636.7 646.0,637.0 650.0,637.3 654.0,637.6 658.0,637.9 662.0,638.1 666.0,638.4 670.0,638.7 674.0,639.0 678.0,639.3 682.0,639.5 686.0,639.8 690.0,640.1 694.0,640.4 698.0,640.6 702.0,640.9 706.0,641.2 710.0,641.4 714.0,641.7 718.0,641.9 722.0,642.2 726.0,642.5 730.0,642.7 734.0,643.0 738.0,643.2 742.0,643.5 746.0,643.7 750.0,644.0 754.0,644.2 758.0,644.5 762.0,644.7 766.0,645.0 770.0,645.2 774.0,645.5 778.0,645.7 782.0,646.0 786.0,646.2 790.0,646.5 794.0,646.7 798.0,646.9 802.0,647.2 806.0,647.4 810.0,647.7 814.0,647.9 818.0,648.2 822.0,648.4 826.0,648.6 830.0,648.9 834.0,649.1 838.0,649.4 842.0,649.6 846.0,649.9 850.0,650.1 854.0,650.3 858.0,650.6 862.0,650.8 866.0,651.1 870.0,651.3 874.0,651.6 878.0,651.8 878.0,663.1 874.0,662.8 870.0,662.6 866.0,662.3 862.0,662.0 858.0,661.7 854.0,661.4 850.0,661.2 846.0,660.9 842.0,660.6 838.0,660.3 834.0,660.0 830.0,659.7 826.0,659.5 822.0,659.2 818.0,658.9 814.0,658.6 810.0,658.3 806.0,658.1 802.0,657.8 798.0,657.5 794.0,657.2 790.0,656.9 786.0,656.6 782.0,656.3 778.0,656.1 774.0,655.8 770.0,655.5 766.0,655.2 762.0,654.9 758.0,654.6 754.0,654.3 750.0,654.0 746.0,653.7 742.0,653.4 738.0,653.1 734.0,652.8 730.0,652.5 726.0,652.2 722.0,651.9 718.0,651.6 714.0,651.3 710.0,651.0 706.0,650.7 702.0,650.4 698.0,650.1 694.0,649.8 690.0,649.4 686.0,649.1 682.0,648.8 678.0,648.5 674.0,648.2 670.0,647.8 666.0,647.5 662.0,647.2 658.0,646.8 654.0,646.5 650.0,646.2 646.0,645.8 642.0,645.5 638.0,645.1 634.0,644.8 630.0,644.4 626.0,644.1 622.0,643.7 618.0,643.4 614.0,643.0 610.0,642.7 606.0,642.3 602.0,641.9 598.0,641.5 594.0,641.2 590.0,640.8 586.0,640.4 582.0,640.0 578.0,639.6 574.0,639.2 570.0,638.8 566.0,638.4 562.0,638.0 558.0,637.6 554.0,637.2 550.0,636.8 546.0,636.4 542.0,636.0 538.0,635.5 534.0,635.1 530.0,634.7 526.0,634.2 522.0,633.8 518.0,633.4 514.0,632.9 510.0,632.5 506.0,632.0 502.0,631.5 498.0,631.1 494.0,630.6 490.0,630.1 486.0,629.6 482.0,629.2 478.0,628.7 474.0,628.2 470.0,627.7 466.0,627.2 462.0,626.7 458.0,626.1 454.0,625.6 450.0,625.1 446.0,624.6 442.0,624.0 438.0,623.5 434.0,623.0 430.0,622.4 426.0,621.8 422.0,621.3 418.0,620.7 414.0,620.1 410.0,619.6 406.0,619.0 402.0,618.4 398.0,617.8 394.0,617.2 390.0,616.6 386.0,615.9 382.0,615.3 378.0,614.7 374.0,614.0 370.0,613.4 366.0,612.7 362.0,612.1 358.0,611.4 354.0,610.7 350.0,610.1 346.0,609.4 342.0,608.7 338.0,607.9 334.0,607.2 330.0,606.5 326.0,605.7 322.0,605.0 318.0,604.2 314.0,603.4 310.0,602.6 306.0,601.7 302.0,600.6" fill="#f23a3a"/>
<path d="M715.8 646.9h0M845.3 655.0h0M707.7 644.4h0M836.8 652.2h0M494.2 627.8h0M875.0 652.8h0M872.9 661.6h0M744.1 646.4h0M604.6 638.3h0M701.1 642.1h0M757.0 652.6h0M819.1 655.1h0M508.5 626.9h0M439.1 620.9h0M577.5 631.9h0M580.4 635.4h0M829.9 655.3h0M610.1 639.1h0M639.4 639.9h0M876.1 652.4h0M471.0 622.9h0M869.9 656.2h0M634.2 643.8h0M840.2 653.5h0M437.4 619.4h0M482.0 623.6h0M344.6 608.7h0M568.2 633.3h0M864.3 660.1h0M734.1 649.9h0M872.3 661.1h0M581.7 632.9h0M850.6 655.7h0M874.8 659.0h0M862.4 658.6h0M545.9 631.9h0M614.4 639.0h0M806.5 655.1h0M842.7 657.3h0M610.0 642.0h0M874.8 660.7h0M877.0 657.1h0M714.1 642.4h0M389.4 613.9h0M730.7 648.5h0M547.7 632.6h0M679.9 645.1h0M666.4 644.9h0M875.6 658.1h0M859.4 652.9h0M833.7 650.0h0M774.1 650.3h0M531.1 629.5h0M686.2 646.8h0M744.1 646.2h0M776.5 648.2h0M312.3 601.6h0M604.5 638.6h0M445.0 622.4h0M859.3 659.0h0M825.2 650.2h0M376.6 614.4h0M878.0 653.1h0M846.8 656.4h0M635.5 641.0h0M731.0 647.6h0M416.4 617.2h0M840.7 652.9h0M335.3 606.3h0M863.6 654.7h0M792.5 653.6h0M576.1 636.6h0M874.8 659.1h0M323.7 603.6h0M708.5 647.2h0M416.1 617.0h0M790.9 648.5h0M722.9 642.9h0M781.7 653.4h0M639.5 636.6h0M494.7 625.1h0M636.3 644.4h0M723.7 651.4h0M329.4 604.8h0M436.1 619.4h0M455.4 625.0h0M789.4 647.0h0M383.0 611.6h0M406.5 616.9h0M475.0 625.2h0M848.7 657.4h0M534.7 629.1h0M304.9 600.5h0M675.8 642.3h0M760.0 647.6h0M586.5 635.0h0M491.1 629.4h0M540.0 628.8h0M517.6 626.4h0M704.1 642.5h0M677.9 645.3h0M714.5 645.2h0M497.8 624.9h0M815.5 652.7h0M761.0 648.4h0M749.6 646.4h0M819.4 654.4h0M677.0 648.0h0M382.4 613.0h0M849.8 650.6h0M793.7 647.3h0M817.0 654.7h0M696.1 644.8h0M547.7 636.2h0M404.6 614.2h0M706.5 645.6h0M473.1 626.4h0M334.8 606.0h0M524.5 633.3h0M464.5 625.1h0M821.7 656.3h0M875.2 652.1h0M467.1 623.6h0M686.2 648.0h0M637.2 640.8h0M546.6 633.3h0M476.6 625.8h0M860.0 661.5h0M310.2 602.1h0M506.4 627.3h0M490.9 626.6h0M558.7 635.2h0M308.8 602.0h0M811.1 652.0h0M654.9 638.5h0M697.9 647.5h0M347.3 608.9h0M858.1 655.2h0M320.0 603.0h0M735.0 645.3h0M671.7 646.7h0M774.6 653.5h0M477.2 623.7h0M476.9 627.7h0M803.3 656.7h0M703.2 647.8h0M791.9 648.0h0M744.9 648.0h0M486.7 623.6h0M322.1 602.8h0M867.1 653.8h0M554.2 631.8h0M421.2 615.8h0M557.5 635.0h0M583.6 636.9h0M859.8 652.9h0M711.9 643.3h0M780.4 647.4h0M591.3 636.8h0M672.6 643.0h0M613.4 641.5h0M767.2 654.8h0M577.5 636.3h0M454.7 621.1h0M655.9 645.4h0M821.7 651.4h0M853.3 654.3h0M542.5 630.4h0M499.7 629.2h0M859.8 655.4h0M856.7 653.4h0M701.7 649.0h0M441.7 621.1h0M549.0 631.7h0M816.9 658.2h0M791.9 654.2h0M560.9 636.7h0M551.5 635.8h0M821.5 654.4h0M741.1 648.5h0M496.5 625.9h0M609.8 634.4h0M569.4 637.5h0M752.1 650.1h0M431.7 618.4h0M740.5 653.2h0M732.9 649.3h0M546.8 631.2h0M351.8 609.9h0M798.8 655.1h0M777.3 645.8h0M620.3 640.4h0M749.5 650.9h0M472.1 623.4h0M795.6 651.1h0M835.8 658.3h0M538.5 630.6h0M862.6 653.1h0M314.3 601.6h0M410.1 619.0h0M854.4 656.9h0M840.2 651.4h0M409.1 614.4h0M735.3 644.5h0M808.6 651.1h0M699.3 646.9h0M442.7 624.1h0M681.8 648.7h0M365.7 610.6h0M376.5 610.3h0M674.5 646.4h0M332.6 605.4h0M400.5 615.6h0M552.6 631.0h0M803.1 652.8h0M510.3 629.7h0M766.2 649.1h0M661.2 638.1h0M701.7 643.1h0M809.2 657.4h0M768.1 651.8h0M842.1 651.8h0M577.8 637.4h0M846.5 660.0h0M568.1 632.5h0M607.1 636.9h0M637.6 640.4h0M868.1 660.3h0M501.7 631.1h0M489.3 624.5h0M623.0 641.0h0M651.5 640.9h0M508.5 629.9h0M795.4 648.6h0M742.7 648.9h0M689.7 640.9h0M866.9 661.8h0M797.9 650.9h0M321.8 602.9h0M794.1 654.1h0M662.2 642.2h0M743.3 645.1h0M364.4 612.2h0M854.2 650.7h0M864.9 655.4h0M787.7 650.0h0M798.1 652.0h0M464.2 623.3h0M543.8 633.7h0M489.9 625.1h0M812.9 653.7h0M379.2 612.7h0M661.5 638.4h0M527.9 630.5h0M703.2 643.6h0M697.6 642.7h0M621.5 639.2h0M873.5 656.7h0M476.2 624.1h0M845.9 653.7h0M370.5 611.4h0M789.2 648.3h0M622.6 638.3h0M564.8 632.9h0M800.7 648.1h0M853.0 659.2h0M824.1 654.6h0M530.5 631.3h0M573.4 631.7h0M656.1 639.5h0M526.8 632.2h0M674.5 647.7h0M847.1 657.8h0M478.6 625.0h0M684.7 642.4h0M740.6 653.2h0M827.5 658.9h0M856.3 652.8h0M616.5 639.0h0M434.2 622.1h0M791.3 654.0h0M647.9 639.9h0M545.1 630.2h0M812.4 657.6h0M666.1 639.9h0M772.0 647.4h0M553.6 636.0h0M357.8 610.8h0M869.4 652.8h0M875.6 656.8h0M752.2 648.9h0M356.2 607.5h0M770.6 651.9h0M433.0 619.5h0M740.4 653.0h0M846.9 660.4h0M776.6 647.3h0M504.7 627.2h0M672.2 644.5h0M615.3 638.1h0M538.2 628.7h0M666.1 641.8h0M697.5 644.7h0M861.0 652.3h0M871.1 660.0h0M702.6 643.5h0M590.4 637.1h0M747.6 651.4h0M501.7 630.0h0M507.7 625.5h0M854.4 658.1h0M703.2 648.4h0M818.0 654.3h0M755.4 650.3h0M858.8 654.4h0M840.2 655.8h0M424.2 620.8h0M396.9 614.3h0M851.6 660.1h0M571.5 631.6h0M656.3 646.7h0M829.1 659.1h0M799.0 656.3h0M643.6 643.2h0M508.4 628.8h0M606.6 635.5h0M849.0 660.7h0M382.3 614.8h0M798.3 655.3h0M621.2 637.7h0M600.7 637.3h0M845.6 657.0h0M482.2 626.9h0M527.1 632.7h0M798.6 656.0h0M641.6 642.1h0M531.0 629.9h0M637.6 640.9h0M495.6 627.9h0M843.9 660.3h0M591.5 633.6h0M595.8 635.3h0M481.2 624.4h0M809.3 652.9h0M844.8 658.9h0M853.1 659.2h0M344.7 608.7h0M616.9 639.0h0M715.3 648.0h0M537.5 628.2h0M550.0 633.8h0M867.7 654.8h0M825.3 654.6h0M557.9 637.3h0M541.8 630.2h0M775.9 648.2h0M777.9 653.4h0M736.1 648.8h0M702.9 650.2h0M315.6 602.8h0M359.7 608.7h0M620.0 635.8h0M354.4 610.0h0M811.9 657.7h0M407.1 614.1h0M761.4 650.1h0M438.6 619.1h0M840.2 656.6h0M751.0 646.4h0M493.5 627.3h0M533.0 628.7h0M772.9 647.6h0M696.5 641.8h0M331.8 605.5h0M801.3 650.8h0M810.4 652.1h0M720.4 651.7h0M482.6 625.5h0M868.2 656.8h0M719.6 650.8h0M425.1 621.0h0M697.6 646.6h0M526.6 630.7h0M625.5 643.8h0M843.8 652.4h0M447.6 621.0h0M720.7 645.1h0M818.3 657.6h0M447.9 622.5h0M434.6 621.3h0M749.9 645.4h0M706.1 650.0h0M531.9 628.5h0M732.5 645.3h0M466.6 624.1h0M589.6 638.2h0M823.4 656.0h0M839.5 652.6h0M588.7 636.3h0M468.5 627.4h0M722.9 648.9h0M836.3 654.2h0M872.3 662.3h0M578.7 634.1h0M365.4 610.1h0M784.2 648.3h0M642.1 645.5h0M702.6 643.5h0M789.0 649.3h0M483.8 628.9h0M385.3 614.4h0M394.0 615.3h0M842.5 658.3h0M709.3 644.7h0M676.5 643.6h0M833.1 656.8h0M401.7 613.5h0M580.4 639.8h0M837.3 651.2h0M650.0 643.6h0M612.0 641.0h0M839.5 651.5h0M379.6 613.4h0M836.1 654.7h0M568.6 635.2h0M738.4 649.3h0M612.7 640.2h0M836.5 660.2h0M705.2 646.9h0M858.8 660.5h0M790.2 656.9h0M822.9 649.7h0M620.8 637.6h0M476.2 628.2h0M830.3 657.6h0M512.2 630.6h0M836.9 655.4h0M611.2 639.8h0M490.9 628.2h0M342.9 608.6h0M382.5 613.4h0M594.8 633.9h0M801.4 648.7h0M775.1 651.7h0M478.0 626.2h0M714.1 649.8h0M810.7 648.8h0M758.8 650.0h0M569.0 631.5h0M573.5 635.8h0M497.2 627.0h0M796.5 651.0h0M477.9 625.2h0M493.3 624.0h0M609.4 634.7h0M728.8 643.8h0M859.9 656.4h0M779.7 654.6h0M704.9 648.7h0M832.5 651.0h0M826.1 649.6h0M451.8 624.1h0M671.6 647.6h0M756.0 654.4h0M675.9 641.8h0M805.7 652.9h0M820.5 658.2h0M468.6 626.5h0M811.9 658.4h0M771.3 654.3h0M484.6 629.3h0M571.2 634.3h0M817.4 658.2h0M404.3 616.9h0M876.5 656.6h0M707.2 642.3h0M832.7 656.7h0M419.2 616.0h0M792.8 654.1h0M509.4 625.8h0M857.2 653.9h0M384.9 613.5h0M575.6 639.3h0M424.0 621.5h0M760.8 648.1h0M633.0 640.5h0M877.2 657.8h0M649.0 641.0h0M606.4 637.4h0M380.8 613.2h0M751.9 644.8h0M735.4 648.9h0M735.8 645.9h0M676.2 640.1h0M588.7 637.7h0M851.3 659.3h0M660.8 638.8h0M825.9 656.3h0M610.2 634.9h0M478.6 623.7h0M775.2 655.6h0M645.0 637.7h0M528.4 627.9h0M801.0 650.9h0M742.2 650.3h0M623.7 638.1h0M734.5 646.4h0M525.0 629.6h0M709.3 649.5h0M696.8 647.4h0M767.7 651.9h0M832.8 651.4h0M673.4 648.0h0M586.3 632.4h0M866.9 652.8h0M866.3 653.6h0M759.9 646.5h0M455.8 620.5h0M445.1 623.0h0M655.5 640.5h0M585.1 638.0h0M804.5 651.4h0M779.8 651.6h0M826.8 652.4h0M793.7 648.4h0M659.3 640.5h0M840.1 652.7h0M851.9 656.0h0M497.9 630.8h0M614.6 640.9h0M558.1 631.1h0M473.0 627.6h0M654.1 640.8h0M620.8 642.8h0M517.0 627.7h0M538.4 634.0h0M399.7 615.5h0M641.0 636.9h0M828.9 652.3h0M694.3 643.6h0M801.9 650.6h0M529.0 631.6h0M685.7 648.4h0M573.8 635.6h0M435.6 620.8h0M727.1 645.1h0M643.4 640.6h0M838.1 660.2h0M865.2 660.1h0M833.7 656.6h0M641.0 637.8h0M874.3 662.6h0M864.3 659.9h0M756.7 645.6h0M843.1 658.5h0M366.2 610.4h0M543.8 636.1h0M543.2 634.1h0M840.6 660.0h0M622.5 635.4h0M653.3 642.2h0M807.2 657.9h0M655.0 642.9h0M597.7 637.8h0M372.7 612.3h0M381.1 612.0h0M445.9 621.4h0M832.2 650.4h0M687.8 645.5h0M544.8 632.4h0M827.5 650.1h0M828.6 652.9h0M525.2 627.9h0M874.9 661.5h0M407.1 616.9h0M826.1 657.0h0M515.8 629.8h0M864.1 656.3h0M694.4 649.0h0M749.9 653.6h0M743.3 644.7h0M852.0 652.2h0M534.7 630.4h0M581.9 635.8h0M878.5 661.9h0M800.1 650.3h0M386.8 613.0h0M696.8 644.2h0M739.2 646.4h0M857.4 661.0h0M634.7 637.1h0M596.0 634.8h0M614.6 640.7h0M840.9 656.2h0M608.2 636.7h0M513.6 632.2h0M413.6 617.4h0M557.6 633.6h0M831.4 650.5h0M432.9 620.8h0M624.8 642.9h0M605.1 640.5h0M349.0 608.1h0M874.6 657.0h0M695.4 641.8h0M329.4 605.2h0M523.3 630.5h0M520.7 633.1h0M854.4 654.2h0M833.6 655.5h0M804.5 647.5h0M873.9 657.4h0M853.9 653.6h0M371.2 610.9h0M688.9 647.9h0M875.6 660.4h0M847.0 651.3h0M360.0 608.3h0M866.9 651.8h0M825.0 656.8h0M501.5 630.0h0M769.8 653.3h0M684.5 640.4h0M391.5 613.8h0M649.2 638.0h0M504.9 631.7h0M868.8 658.0h0M674.1 641.9h0M808.7 657.1h0M598.3 636.4h0M352.5 608.9h0M395.2 613.9h0M767.1 651.8h0M855.3 655.5h0M586.0 633.9h0M708.0 647.2h0M872.0 658.4h0M542.4 633.2h0M322.6 603.5h0M818.4 648.4h0M561.9 636.1h0M720.8 649.7h0M838.6 649.6h0M428.3 618.4h0M329.8 604.2h0M363.3 610.7h0M860.7 652.4h0M520.2 631.7h0M697.6 649.5h0M366.4 609.6h0M669.0 644.1h0M642.8 640.4h0M407.7 619.0h0M719.2 648.5h0M501.1 625.2h0M737.6 648.4h0M314.3 601.9h0M357.7 609.7h0M838.1 654.2h0M480.8 624.9h0M727.1 651.3h0M849.2 658.3h0M349.1 607.3h0M481.4 625.8h0M765.0 647.1h0M665.8 644.4h0M741.5 643.8h0M487.6 626.5h0M809.8 648.7h0M736.7 651.4h0M764.8 647.2h0M680.3 648.0h0M478.8 622.9h0M400.8 613.4h0M311.8 602.2h0M589.0 637.8h0M474.1 622.2h0M505.2 628.9h0M718.9 644.2h0M763.8 645.1h0M800.8 647.7h0M823.2 652.8h0M668.6 643.0h0M833.5 652.9h0M780.8 652.8h0M793.3 653.0h0M557.5 633.1h0M865.7 653.4h0M826.3 651.6h0M755.3 650.3h0M448.0 624.4h0M859.0 653.5h0M481.7 624.1h0M830.5 657.9h0M501.8 628.2h0M813.0 654.1h0M411.2 614.6h0M437.0 620.7h0M871.4 655.2h0M733.1 651.2h0M781.6 652.1h0M494.9 630.1h0M730.1 643.1h0M500.1 627.4h0M641.0 642.9h0M874.9 657.9h0M600.8 635.0h0M779.1 652.7h0M822.1 654.9h0M870.0 658.3h0M836.6 653.5h0M758.0 653.3h0M687.5 643.2h0M749.5 651.6h0M768.1 653.5h0M444.4 622.1h0M874.5 656.0h0M840.2 659.5h0M322.3 604.9h0M667.0 644.5h0M854.3 653.7h0M317.4 602.2h0M608.6 635.0h0M781.1 651.1h0M731.0 644.9h0M732.1 650.0h0M525.4 631.0h0M859.9 658.4h0M676.4 642.9h0M727.8 647.9h0M803.1 648.9h0M357.1 609.0h0M720.4 642.4h0M568.3 631.7h0M681.8 645.0h0M717.8 642.3h0M376.9 612.2h0M778.6 655.1h0M557.4 635.3h0M502.7 628.3h0M443.4 620.9h0M599.7 640.5h0M802.4 657.1h0M805.3 647.6h0M485.0 627.8h0M752.1 645.5h0M875.4 651.7h0M358.2 610.4h0M586.7 633.6h0M876.6 657.8h0M748.3 648.8h0M773.2 652.1h0M857.5 661.0h0M704.0 645.6h0M842.5 652.3h0M311.6 601.6h0M614.9 638.0h0M870.2 655.3h0M370.7 610.8h0M640.6 644.0h0M586.9 637.9h0M660.7 643.1h0M829.8 651.9h0M528.5 629.4h0M481.1 625.0h0M562.2 635.2h0M648.6 641.2h0M848.6 661.0h0M740.7 648.1h0M513.5 629.5h0M560.5 634.9h0M816.7 653.8h0M798.0 653.9h0M862.3 659.5h0M750.8 645.6h0M483.0 625.7h0M696.8 643.9h0M754.8 645.7h0M818.5 656.4h0M640.1 641.3h0M416.9 618.4h0M713.7 648.6h0M789.9 651.6h0M529.4 633.4h0M331.2 603.9h0M601.8 640.3h0M715.9 645.8h0M538.1 631.3h0M786.9 655.4h0M533.0 631.7h0M669.0 646.7h0M845.8 660.0h0M604.4 641.3h0M827.9 658.0h0M822.5 655.7h0M713.2 646.9h0M518.0 631.0h0M486.6 626.4h0M742.7 644.1h0M801.0 657.4h0M641.1 637.9h0M777.9 646.8h0M576.7 634.8h0M872.9 657.2h0M624.7 641.1h0M876.2 662.6h0M539.7 631.2h0M699.5 647.2h0M397.6 617.7h0M453.2 624.0h0M569.9 631.0h0M717.2 643.4h0M544.0 630.3h0M616.9 642.8h0M830.4 657.5h0M800.7 652.8h0M625.7 642.4h0M855.8 657.9h0M763.5 654.9h0M863.5 659.8h0M538.8 631.6h0M655.7 646.4h0M868.0 651.8h0M764.2 654.6h0M644.1 638.4h0M552.3 633.8h0M768.4 652.2h0M603.2 635.6h0M390.9 613.4h0M399.5 615.5h0M874.9 658.5h0M778.1 655.7h0M820.7 657.1h0M761.6 652.5h0M791.2 651.2h0M575.3 634.4h0M846.5 657.1h0M346.7 607.3h0M761.8 645.6h0M408.5 617.1h0M490.9 628.9h0M769.9 654.3h0M417.9 616.6h0M676.6 642.4h0M527.6 634.3h0M638.8 642.3h0M531.3 632.2h0M410.1 615.7h0M668.1 646.1h0M657.6 645.5h0M562.5 632.1h0M753.6 650.5h0M375.6 610.7h0M669.2 642.7h0M452.4 625.4h0M842.7 652.2h0M787.9 650.3h0M456.9 622.9h0M740.8 651.7h0M769.9 648.6h0M412.7 618.0h0M849.7 651.0h0M794.0 652.3h0M544.1 633.1h0M671.0 644.0h0M378.8 613.3h0M852.7 656.1h0M828.5 657.1h0M507.1 629.3h0M793.6 651.4h0M871.2 659.4h0M690.1 648.1h0M566.3 633.3h0M854.1 657.3h0M485.6 626.5h0M467.8 626.0h0M348.8 606.7h0M811.9 653.3h0M592.3 639.7h0M724.4 650.1h0M509.8 630.3h0M360.3 611.8h0M321.4 602.6h0M648.2 638.2h0M696.8 649.4h0M573.8 637.7h0M636.7 643.0h0M811.4 652.2h0M347.7 608.8h0M638.6 639.5h0M867.1 654.7h0M579.0 636.9h0M460.4 624.3h0M507.7 626.0h0M810.8 648.2h0M665.0 638.5h0M841.0 653.7h0M383.0 614.4h0M385.6 612.7h0M632.0 641.4h0M596.8 641.4h0M328.0 604.3h0M840.0 658.6h0M391.4 613.1h0M501.3 625.4h0M544.7 634.0h0M576.6 638.3h0M618.8 639.1h0M569.4 633.6h0M303.3 600.4h0M327.7 604.4h0M630.2 643.2h0M519.2 632.3h0M833.6 653.6h0M452.9 624.9h0M405.5 615.2h0M852.2 657.3h0M363.8 610.9h0M482.6 624.4h0M593.2 636.6h0M830.1 659.7h0M624.0 635.6h0M349.5 608.9h0M495.8 629.1h0M326.0 604.3h0M612.0 634.6h0M532.4 634.4h0M592.2 633.7h0M875.7 662.2h0M506.4 625.8h0M757.5 653.9h0M769.8 653.1h0M725.8 651.6h0M859.1 654.6h0M606.1 636.4h0M611.2 636.9h0M649.6 638.4h0M564.2 634.0h0M792.2 648.0h0M847.5 651.9h0M732.3 645.6h0M383.3 612.5h0M767.3 649.5h0M759.9 646.8h0M763.5 646.8h0M357.3 608.7h0M588.9 638.2h0M512.7 629.1h0M427.6 619.7h0M512.7 627.1h0M705.8 649.0h0M838.1 654.5h0M858.0 651.1h0M814.1 652.0h0M847.8 654.5h0M668.4 641.6h0M641.8 639.8h0M476.2 625.1h0M629.3 644.1h0M703.3 642.3h0M872.7 652.9h0M508.2 626.6h0M630.8 636.0h0M567.4 634.0h0M714.8 647.1h0M856.9 655.0h0M310.1 601.8h0M827.5 651.9h0M859.2 659.3h0M635.0 640.5h0M370.4 611.4h0M863.0 656.1h0M577.7 639.5h0M733.1 645.0h0M394.9 616.7h0M427.2 620.8h0M622.9 643.0h0M543.1 631.4h0M508.2 630.2h0M827.5 657.5h0M831.5 653.2h0M562.2 632.3h0M357.7 608.2h0M455.5 624.2h0M443.3 619.9h0M440.9 622.1h0M861.6 654.1h0M791.8 647.6h0M754.7 646.4h0M532.9 627.9h0M827.6 658.7h0M843.8 660.5h0M714.6 643.8h0M582.3 635.9h0M851.0 660.5h0M851.9 650.9h0M671.1 644.3h0M582.6 638.9h0M442.4 619.8h0M613.4 640.8h0M793.5 650.2h0M597.8 636.2h0M855.7 658.6h0M793.7 653.7h0M468.1 626.4h0M861.5 652.6h0M836.3 655.1h0M804.8 653.0h0M698.7 646.3h0M827.2 656.1h0M573.6 638.0h0M806.9 650.6h0M702.4 648.1h0M837.2 656.4h0M714.8 649.3h0M585.5 636.9h0M432.1 621.5h0M859.2 654.3h0M357.2 608.3h0M705.4 648.5h0M634.0 643.8h0M334.8 607.2h0M384.8 611.9h0M573.3 638.4h0M703.1 645.5h0M836.5 654.1h0M746.7 648.0h0M848.9 653.5h0M557.7 631.7h0M475.5 625.3h0M693.0 641.1h0M614.2 641.5h0M862.1 656.1h0M664.4 642.1h0M468.3 627.3h0M452.5 622.8h0M850.1 655.1h0M876.2 659.2h0M749.3 652.5h0M442.9 620.8h0M409.0 614.9h0M871.0 660.9h0M455.6 620.7h0M742.1 646.2h0M626.0 640.3h0M760.1 652.6h0M870.7 661.1h0M842.9 651.6h0M595.5 634.6h0M512.1 632.5h0M725.6 648.8h0M793.8 653.2h0M535.8 634.6h0M716.0 646.0h0M641.4 639.8h0M386.0 613.1h0M578.3 637.8h0M669.8 640.8h0M834.7 652.2h0M869.7 655.3h0M356.5 609.7h0M707.5 641.3h0M641.3 641.7h0M788.8 655.1h0M595.4 640.1h0M595.0 638.8h0M581.5 636.1h0M374.9 612.9h0M620.2 637.6h0M644.0 639.5h0M845.4 651.0h0M707.2 645.0h0M761.2 653.8h0M807.5 657.5h0M862.9 659.2h0M625.1 642.3h0M814.4 656.4h0M325.0 604.8h0M842.1 651.5h0M510.5 631.4h0M703.5 644.2h0M517.0 632.6h0M871.3 652.3h0M711.1 649.8h0M846.7 652.5h0M318.0 603.1h0M694.1 647.9h0M807.5 657.1h0M708.9 642.2h0M552.4 637.0h0M423.4 620.6h0M528.9 631.7h0M789.3 647.0h0M571.1 634.8h0M791.3 651.3h0M339.9 606.3h0M492.8 625.1h0M832.3 655.5h0M607.1 638.4h0M837.9 650.9h0M845.4 650.5h0M468.7 622.4h0M304.0 601.2h0M588.2 639.6h0M717.3 646.8h0M720.9 642.5h0M379.0 614.3h0M720.0 642.6h0M339.9 606.5h0M639.9 637.4h0M353.1 609.5h0M746.3 651.4h0M602.0 637.2h0M716.9 650.6h0M596.3 640.4h0M614.4 639.1h0M732.8 645.3h0M420.6 618.2h0M746.6 647.5h0M845.5 658.1h0M850.2 651.4h0M741.8 651.8h0M551.6 635.7h0M800.9 655.2h0M438.4 618.5h0M522.2 626.7h0M728.0 651.4h0M860.9 654.7h0M639.3 639.1h0M587.1 639.3h0M655.0 638.5h0M863.3 658.9h0M601.3 641.5h0M547.5 635.7h0M676.6 643.8h0M855.1 653.0h0M831.1 653.2h0M647.0 639.5h0M555.5 631.9h0M864.8 659.1h0M826.0 653.0h0M483.4 622.8h0M644.8 642.7h0M394.9 615.5h0M489.6 627.1h0M718.2 648.7h0M519.5 627.2h0M614.2 640.3h0M596.7 639.6h0M327.0 603.6h0M597.0 635.1h0M556.2 633.6h0M663.3 644.0h0M831.2 659.3h0M478.1 623.7h0M840.9 659.0h0M563.0 638.0h0M585.7 634.0h0M864.6 651.4h0M860.6 656.0h0M792.7 648.5h0M512.2 628.0h0M860.1 655.9h0M303.1 600.8h0M859.3 655.4h0M369.4 611.3h0M756.7 654.0h0M849.4 653.5h0M743.5 652.2h0M366.3 612.0h0M493.0 625.6h0M631.9 643.1h0M811.5 656.0h0M749.4 646.2h0M696.8 645.3h0M611.3 634.6h0M658.9 641.3h0M625.2 637.2h0M862.0 657.5h0M315.9 602.3h0M695.1 646.4h0M672.1 640.8h0M804.3 655.5h0M829.6 657.3h0M449.0 622.6h0M683.0 640.5h0M475.0 626.4h0M552.9 636.2h0M842.2 660.3h0M703.8 643.1h0M709.7 644.8h0M512.4 632.0h0M766.8 653.8h0M432.3 622.7h0M352.6 607.5h0M855.2 659.2h0M326.5 605.8h0M478.6 622.5h0M824.9 655.2h0M759.1 650.2h0M570.5 637.6h0M740.9 644.7h0M813.3 658.1h0M801.7 655.9h0M720.0 645.7h0M832.7 658.2h0M547.5 629.2h0M832.6 653.0h0M547.8 634.3h0M663.0 644.5h0M403.8 615.4h0M852.0 651.6h0M540.6 628.9h0M629.5 640.6h0M595.3 638.7h0M783.7 648.4h0M843.6 659.4h0M512.4 627.1h0M443.0 623.7h0M448.8 622.0h0M488.8 627.4h0M417.3 620.3h0M465.6 622.0h0M728.0 650.0h0M638.7 640.9h0M771.9 651.8h0M460.1 623.8h0M724.4 649.7h0M870.4 656.9h0M705.8 644.5h0M343.3 607.9h0M450.5 622.9h0M716.7 649.7h0M858.8 656.0h0M458.7 625.0h0M392.9 613.9h0M867.1 653.1h0M830.1 652.0h0M729.9 650.5h0M670.7 647.6h0M732.1 649.2h0M634.3 639.5h0M467.9 627.3h0M569.3 631.1h0M871.2 659.6h0M464.4 621.5h0M649.7 639.4h0M683.5 644.3h0M695.7 645.5h0M640.9 644.8h0M866.7 659.4h0M833.9 658.2h0M836.7 653.0h0M671.0 647.9h0M486.0 628.6h0M521.7 627.3h0M466.7 626.3h0M465.6 621.8h0M661.4 641.4h0M848.2 655.4h0M409.5 619.0h0M830.6 654.7h0M750.8 652.6h0M537.9 631.5h0M313.9 602.2h0M847.1 652.2h0M476.1 626.5h0M538.7 634.4h0M427.5 618.6h0M665.2 643.2h0M848.8 652.0h0M870.1 657.7h0M862.9 656.7h0M415.1 619.8h0M316.0 603.7h0M817.9 657.0h0M700.3 645.4h0M708.2 647.7h0M735.4 650.7h0M588.0 638.9h0M391.8 614.3h0M648.4 640.2h0M692.5 645.6h0M851.3 651.1h0M810.8 652.5h0M856.3 652.7h0M727.2 652.0h0M837.2 652.8h0M833.6 656.7h0M356.2 610.6h0M319.2 602.3h0M817.7 658.5h0M612.9 641.2h0M781.8 647.6h0M859.1 653.4h0M813.5 651.8h0M853.4 659.4h0M861.5 657.5h0M671.1 638.9h0M369.4 611.8h0M860.9 651.2h0M650.4 640.8h0M632.6 637.8h0M778.6 648.0h0M598.5 636.2h0M648.8 645.5h0M869.1 651.3h0M431.3 620.2h0M783.7 651.5h0M662.0 642.6h0M802.1 654.1h0M373.8 613.8h0M849.9 660.6h0M760.0 651.9h0M557.0 630.3h0M829.7 656.2h0M867.0 652.0h0M309.6 602.4h0M492.9 626.3h0M390.4 614.0h0M536.8 632.9h0M365.7 612.1h0M727.0 643.1h0M730.0 644.3h0M475.6 622.3h0M731.0 643.2h0M813.0 653.8h0M869.7 655.0h0M412.3 618.7h0M453.9 623.6h0M684.0 641.5h0M472.1 625.7h0M516.0 632.1h0M729.2 647.7h0M517.4 632.7h0M506.1 629.3h0M532.4 629.1h0M815.5 655.5h0M827.2 653.6h0M779.4 653.7h0M437.9 621.7h0M509.5 629.3h0M813.1 649.6h0M346.7 607.7h0M809.5 650.4h0M833.9 655.4h0M821.1 649.9h0M369.3 610.8h0M715.7 645.7h0M652.2 642.2h0M322.6 602.7h0M769.9 650.1h0M860.0 657.4h0M669.3 639.9h0M796.3 648.7h0M672.5 641.6h0M499.4 629.2h0M779.1 648.8h0M869.6 652.0h0M840.4 653.4h0M822.5 656.5h0M562.8 632.5h0M754.3 650.5h0M839.4 652.9h0M516.5 632.1h0M816.3 656.5h0M773.1 654.8h0M617.2 642.0h0M454.7 625.1h0M766.3 648.7h0M713.1 650.0h0M825.9 653.3h0M568.8 632.1h0M365.6 610.2h0M842.6 659.5h0M796.5 656.9h0M375.8 611.4h0M477.7 626.8h0M826.3 655.9h0M482.8 625.6h0M844.7 659.6h0M877.2 660.8h0M465.4 624.6h0M333.8 606.0h0M585.2 634.9h0M825.0 649.6h0M310.2 601.9h0M557.4 634.5h0M756.3 649.7h0M434.6 620.6h0M474.5 623.2h0M600.3 636.4h0M859.8 651.9h0M458.2 621.8h0M390.5 615.2h0M619.5 638.7h0M556.5 636.8h0M823.2 650.6h0M587.0 633.1h0M751.9 648.9h0M644.1 645.2h0M713.4 642.2h0M875.2 656.5h0M652.6 638.7h0M748.6 652.4h0M647.8 643.1h0M878.4 662.5h0M634.8 640.3h0M710.7 650.0h0M519.5 627.3h0M376.5 611.9h0M798.5 655.3h0M672.6 639.0h0M449.1 619.5h0M316.3 603.1h0M466.1 624.2h0M700.4 641.0h0M573.3 634.0h0M749.2 650.8h0M433.4 620.1h0M459.7 622.9h0M869.1 658.8h0M806.8 654.3h0M462.5 621.7h0M697.9 640.6h0M742.3 648.6h0M666.3 640.2h0M849.8 653.4h0M678.7 645.5h0M611.8 637.9h0M545.2 630.5h0M793.9 648.8h0M640.1 639.6h0M773.2 653.8h0M859.3 651.8h0M392.7 616.8h0M783.2 646.3h0M402.6 616.3h0M750.6 652.5h0M581.1 636.9h0M394.3 616.2h0M856.7 652.8h0M591.8 633.4h0M823.6 651.7h0M641.0 640.0h0M427.0 621.9h0M534.7 631.2h0M687.1 649.1h0M844.8 650.3h0M541.6 629.2h0M802.9 652.6h0M738.6 650.0h0M514.9 632.7h0M659.4 645.0h0M317.7 602.0h0M831.8 650.1h0M448.7 622.9h0M660.0 643.0h0M370.7 612.1h0M738.0 650.4h0M520.1 630.6h0M683.5 646.9h0M646.3 639.3h0M563.0 631.8h0M817.0 657.9h0M870.6 661.1h0M331.2 606.0h0M547.8 633.6h0M805.5 653.4h0M596.8 637.5h0M832.6 651.3h0M854.0 652.5h0M700.6 644.4h0M647.8 644.8h0M519.6 632.0h0M527.8 628.7h0M323.0 603.6h0M835.3 654.9h0M686.5 649.1h0M469.6 622.5h0M830.4 649.2h0M873.9 662.4h0M542.0 630.7h0M600.1 638.7h0M330.8 604.3h0M833.5 652.1h0M387.7 613.8h0M678.2 648.1h0M340.8 607.5h0M773.3 649.8h0M629.6 639.0h0M858.8 657.5h0M825.4 657.1h0M567.6 636.9h0M584.7 635.0h0M735.7 648.0h0M388.0 613.0h0M629.7 636.5h0M467.3 623.2h0M717.1 649.3h0M416.4 619.8h0M355.4 608.1h0M750.4 652.2h0M615.6 640.3h0M725.2 651.0h0M455.0 624.5h0M738.2 650.2h0M866.4 655.7h0M579.2 634.2h0M498.8 624.9h0M783.5 655.9h0M325.1 603.6h0M411.9 617.1h0M461.4 623.8h0M554.5 631.0h0M632.8 637.9h0M702.8 647.5h0M416.2 619.4h0M568.0 634.2h0M696.1 649.3h0M627.9 637.2h0M594.9 638.2h0M578.8 634.1h0M652.8 641.0h0M437.3 620.7h0M649.2 641.3h0M793.4 657.1h0M507.2 625.4h0M864.5 657.5h0M347.4 606.9h0M639.3 638.9h0M867.8 657.9h0M729.3 647.8h0M401.4 614.3h0M648.0 641.1h0M371.9 609.5h0M709.8 649.8h0M650.8 640.5h0M389.8 612.3h0M402.7 618.4h0M547.8 633.4h0M610.4 637.7h0M605.5 641.0h0M875.6 656.7h0M457.1 620.2h0M583.3 635.8h0M319.2 603.7h0M797.8 652.4h0M823.8 656.2h0M352.1 609.4h0M336.5 605.0h0M853.4 655.6h0M582.1 632.6h0M448.9 620.2h0M664.8 645.4h0M852.4 660.1h0M652.4 639.7h0M584.6 637.7h0M317.4 602.4h0M639.0 639.5h0M616.1 641.8h0M812.3 651.1h0M520.0 630.7h0M386.4 612.8h0M745.1 648.5h0M876.2 662.0h0M478.7 627.9h0M692.4 647.0h0M722.4 644.0h0M759.6 644.8h0M869.8 657.3h0M439.6 621.3h0M837.9 657.9h0M492.8 630.2h0M685.2 645.0h0M760.9 650.9h0M674.2 648.1h0M871.2 659.9h0M676.6 642.6h0M873.2 657.9h0M432.5 617.9h0M657.3 642.4h0M858.4 656.4h0M628.5 638.0h0M872.8 656.5h0M521.4 629.0h0M855.4 660.7h0M818.4 650.1h0M838.0 658.8h0M494.6 627.5h0M443.6 623.8h0M422.6 617.3h0M476.7 624.2h0M679.4 641.5h0M318.5 602.1h0M605.5 635.9h0M338.0 607.6h0M493.3 630.0h0M749.6 647.0h0M789.1 655.7h0M505.9 627.7h0M781.0 647.5h0M692.6 640.3h0M573.0 633.0h0M581.9 634.2h0M798.6 647.8h0M515.8 628.8h0M359.2 610.6h0M812.9 657.0h0M855.9 652.9h0M850.0 650.8h0M707.3 646.0h0M868.4 656.7h0M858.7 652.3h0M535.8 631.9h0M814.8 654.2h0M874.0 655.8h0M720.2 647.2h0M615.8 640.3h0M661.1 642.8h0M406.3 618.7h0M853.5 650.6h0M537.3 632.6h0M549.8 629.4h0M572.1 637.6h0M818.5 650.7h0M320.9 602.9h0M842.3 650.0h0M360.4 608.6h0M537.6 632.3h0M589.9 634.0h0M866.5 662.2h0M827.6 657.1h0M716.4 649.5h0M380.6 611.7h0M428.2 619.8h0M398.0 616.5h0M539.8 633.8h0M732.0 647.2h0M473.5 626.2h0M414.5 618.4h0M626.8 642.1h0M802.6 652.5h0M540.4 634.7h0M784.3 652.6h0M388.0 612.8h0M650.7 638.0h0M807.1 650.7h0M359.6 610.7h0M834.1 659.1h0M875.8 658.4h0M539.5 630.6h0M586.5 634.5h0M347.2 609.1h0M737.4 651.6h0M827.5 656.8h0M458.2 622.1h0M653.8 643.3h0M351.9 609.2h0M431.8 619.5h0M744.3 645.9h0M459.3 624.3h0M304.5 601.0h0M875.7 656.9h0M865.8 660.2h0M875.1 653.8h0M341.8 607.0h0M613.9 636.3h0M851.7 650.4h0M448.7 623.9h0M503.6 625.1h0M437.9 618.9h0M552.6 631.2h0M790.0 652.7h0M828.0 649.9h0M370.3 609.4h0M843.0 660.6h0M877.7 662.2h0M802.5 653.2h0M536.2 632.6h0M820.9 651.5h0M424.2 620.4h0M599.9 638.8h0M476.4 622.2h0M741.4 645.2h0M524.3 629.6h0M381.9 613.4h0M619.6 637.3h0M715.2 646.6h0M604.7 637.3h0M678.1 645.1h0M325.4 605.5h0M721.8 651.8h0M818.2 657.6h0M460.9 624.0h0M635.8 644.6h0M371.5 612.4h0M799.6 652.0h0M742.4 646.6h0M670.5 645.0h0M516.8 632.9h0M779.5 648.6h0M870.1 656.7h0M722.1 647.4h0M358.0 611.1h0M868.9 654.0h0M817.1 650.5h0M597.6 638.6h0M834.9 654.7h0M794.9 656.8h0M761.4 652.3h0M507.7 630.8h0M862.7 661.6h0M604.7 634.2h0M674.8 644.7h0M556.7 632.3h0M358.6 609.5h0M857.4 655.2h0M840.7 650.4h0M847.0 650.5h0M557.9 637.6h0M840.8 651.5h0M845.1 656.8h0M748.4 647.7h0M424.8 618.3h0M867.7 657.7h0M830.8 654.5h0M833.7 658.2h0M847.4 652.9h0M848.0 651.8h0M776.2 646.6h0M738.4 643.3h0M415.5 615.9h0M533.8 633.6h0M867.3 659.9h0M820.5 655.5h0M860.5 660.3h0M831.9 659.4h0M664.2 646.7h0M723.0 643.7h0M801.6 653.6h0M379.8 612.4h0M523.2 630.8h0M839.3 654.5h0M541.6 634.5h0M852.8 655.0h0M373.8 610.4h0M478.5 626.6h0M803.7 649.7h0M486.5 628.5h0M700.6 649.5h0M792.8 651.4h0M333.9 607.0h0M430.2 619.0h0M850.8 658.8h0M335.6 605.7h0M791.7 648.6h0M648.9 638.5h0M874.3 652.8h0M698.4 645.9h0M830.4 657.9h0M574.8 631.5h0M589.6 640.0h0M723.4 644.6h0M425.1 616.5h0M831.2 659.1h0M384.7 614.2h0M807.6 648.7h0M660.3 643.2h0M517.5 629.4h0M868.4 659.5h0M875.7 660.5h0M871.9 654.6h0M518.3 629.3h0M853.9 656.1h0M774.3 655.7h0M851.8 660.8h0M610.6 634.7h0M774.6 648.3h0M833.2 656.3h0M668.9 639.3h0M827.5 655.5h0M816.6 651.9h0M624.4 638.1h0M845.3 652.2h0M861.1 658.9h0M671.9 645.6h0M805.8 653.8h0M843.1 657.2h0M693.3 644.2h0M847.2 650.4h0M807.1 657.2h0M398.7 615.0h0M855.8 658.2h0M632.5 643.3h0M731.0 649.2h0M569.6 637.0h0M744.7 652.2h0M691.7 642.0h0M802.3 651.1h0M840.4 652.5h0M348.2 608.2h0M662.3 643.2h0M446.0 622.0h0M385.2 613.1h0M520.2 627.0h0M497.4 624.9h0M489.0 627.1h0M342.5 606.6h0M865.2 654.0h0M701.1 650.3h0M668.7 645.3h0M787.2 649.1h0M678.3 648.5h0M558.8 637.2h0M875.1 658.1h0M781.8 650.5h0M689.9 644.0h0M868.9 658.7h0M356.9 609.8h0M628.3 640.4h0M660.6 643.8h0M323.2 603.6h0M824.3 658.2h0M453.1 625.0h0M724.5 647.8h0M801.2 648.1h0M602.1 635.6h0M818.4 652.8h0M424.6 616.3h0M419.4 615.6h0M783.7 647.2h0M456.4 621.9h0M847.1 660.8h0M580.0 633.2h0M430.7 622.1h0M845.6 653.3h0M645.7 639.8h0M683.6 640.1h0M617.1 639.8h0M409.9 616.9h0M304.9 600.7h0M854.1 660.6h0M428.6 617.0h0M691.8 647.7h0M549.8 632.3h0M427.6 616.9h0M681.8 640.6h0M626.6 636.3h0M799.4 656.6h0M502.8 625.0h0M858.1 655.4h0M867.4 651.7h0M553.8 630.7h0M454.8 620.7h0M819.6 657.4h0M668.7 639.3h0M621.0 635.3h0M444.9 622.8h0M590.7 640.1h0M872.8 660.2h0M658.4 641.1h0M394.3 616.8h0M796.5 651.7h0M650.2 642.2h0M778.4 650.8h0M804.2 649.5h0M859.2 661.2h0M605.4 634.9h0M803.9 656.2h0M850.8 650.2h0M754.0 647.0h0M791.9 651.0h0M567.6 638.6h0M594.8 639.5h0M652.6 639.3h0M815.8 651.7h0M850.4 656.9h0M735.7 644.2h0M875.7 654.4h0M438.6 623.4h0M707.5 646.8h0M477.7 622.6h0M627.3 639.9h0M421.6 620.2h0M813.5 657.5h0M700.5 644.2h0M731.8 646.8h0M664.8 646.3h0M681.2 647.9h0M818.0 657.6h0M568.0 634.6h0M653.2 643.9h0M402.5 616.9h0M842.4 650.9h0M787.7 651.1h0M835.5 651.3h0M812.8 652.1h0M524.6 633.7h0M529.7 629.3h0M684.5 642.3h0M423.7 621.3h0M878.3 653.7h0M794.9 648.0h0M327.7 605.1h0M843.0 650.6h0M434.4 620.7h0M347.7 606.3h0M396.4 613.5h0M853.5 656.6h0M716.8 642.2h0M368.4 609.3h0M784.9 652.1h0M845.9 652.1h0M422.2 617.0h0M502.2 627.0h0M322.4 604.8h0M434.7 621.1h0M343.2 605.8h0M749.1 646.5h0M429.0 616.8h0M772.8 652.5h0M707.9 648.5h0M875.2 653.5h0M746.0 650.0h0M872.8 655.0h0M314.7 602.8h0M557.6 637.4h0M720.2 645.1h0M344.3 606.4h0M666.3 642.1h0M861.6 659.2h0M652.9 639.0h0M725.7 647.7h0M795.3 655.3h0M795.3 647.1h0M757.0 653.1h0M795.5 656.6h0M580.7 632.2h0M854.2 657.9h0M589.6 638.4h0M865.3 654.2h0M572.6 635.3h0M774.3 649.4h0M694.2 640.7h0M865.2 659.6h0M625.1 637.1h0M867.5 657.9h0M509.0 631.6h0M486.9 628.2h0M383.8 613.8h0M607.9 636.5h0M319.5 602.2h0M822.1 650.6h0M836.3 649.5h0M808.4 650.6h0M719.3 643.4h0M434.6 618.7h0M407.8 618.9h0M733.6 646.8h0M825.9 653.9h0M708.7 650.4h0M477.9 623.9h0M834.5 649.7h0M773.2 646.9h0M373.7 611.3h0M674.4 645.0h0M765.0 645.0h0M702.9 648.6h0M515.5 627.2h0M576.7 631.6h0M824.4 648.7h0M656.4 640.7h0M679.9 643.6h0M687.7 643.6h0M445.2 619.1h0M862.6 655.0h0M545.3 632.6h0M336.9 607.1h0M709.7 642.9h0M609.8 638.4h0M831.4 649.8h0M737.9 653.0h0M776.0 645.9h0M862.5 655.7h0M797.9 653.4h0M832.6 652.0h0M432.8 617.7h0M699.3 642.8h0M393.1 615.4h0M687.3 648.5h0M710.2 646.6h0M552.9 635.9h0M551.5 636.0h0M556.7 633.9h0M362.4 609.9h0M840.9 655.0h0M503.1 631.0h0M832.1 651.5h0M377.4 613.3h0M857.7 655.5h0M512.4 631.6h0M736.6 647.9h0M743.5 652.7h0M484.5 623.0h0M431.4 617.7h0M833.2 654.2h0M808.1 651.0h0M688.2 646.5h0M450.5 620.6h0M489.5 624.1h0M441.7 619.6h0M570.5 638.7h0M874.3 654.4h0M819.4 658.1h0M463.6 621.9h0M483.5 628.9h0M876.6 656.5h0M419.1 618.9h0M702.4 647.1h0M872.2 662.4h0M706.2 642.9h0M872.9 653.3h0M345.9 606.1h0M678.9 640.5h0M474.9 624.4h0M813.7 656.5h0M820.4 651.0h0M780.7 648.5h0M471.3 622.7h0M837.8 659.7h0M650.0 642.7h0M567.3 634.2h0M855.9 658.5h0M529.5 627.8h0M735.3 648.6h0M851.5 654.7h0M462.9 622.5h0M438.4 621.6h0M536.8 629.9h0M716.7 646.8h0M795.0 654.1h0M698.8 644.0h0M465.0 622.7h0M796.9 653.1h0M790.7 655.4h0M842.4 660.5h0M828.5 651.4h0M855.6 660.1h0M487.8 625.4h0M332.1 606.8h0M547.2 629.2h0M734.7 648.0h0M604.0 636.4h0M522.1 631.5h0M694.4 640.8h0M731.0 644.1h0M553.6 632.7h0M483.0 624.5h0M763.7 651.7h0M842.6 652.1h0M591.8 636.5h0M412.2 615.6h0M520.3 631.4h0M844.6 660.3h0M864.5 651.6h0M553.1 634.1h0M523.2 629.8h0M644.2 644.4h0M599.4 637.2h0M387.0 614.4h0M792.8 648.8h0M845.0 650.1h0M458.8 620.4h0M739.3 652.3h0M798.9 657.1h0M687.1 647.4h0M840.0 656.3h0M509.2 627.6h0M796.7 652.4h0M808.2 650.9h0M349.4 607.6h0M456.4 621.0h0M848.0 660.9h0M735.9 652.2h0M663.9 644.6h0M827.9 655.6h0M808.8 657.3h0M847.8 654.5h0M729.2 645.5h0M669.3 641.4h0M632.3 644.3h0M876.7 660.2h0M854.4 660.5h0M802.8 648.3h0M313.7 601.6h0M619.5 640.5h0M781.1 647.2h0M790.1 656.0h0M600.7 635.0h0M710.5 647.8h0M854.8 659.9h0M644.0 642.4h0M876.6 661.5h0M703.8 641.4h0M834.4 654.9h0M489.4 624.9h0M681.2 642.7h0M339.4 605.2h0M317.3 602.4h0M809.5 651.9h0M352.2 608.2h0M393.9 614.3h0M725.5 646.0h0M854.9 657.7h0M755.1 646.1h0M335.7 604.8h0M784.7 646.8h0M698.3 646.7h0M657.2 640.6h0M857.1 652.7h0M534.9 628.2h0M729.0 643.8h0M792.7 656.9h0M868.5 652.6h0M843.7 658.2h0M656.7 646.4h0M629.7 640.8h0M601.9 641.7h0M517.1 632.8h0M343.3 608.6h0M664.9 638.8h0M464.8 625.8h0M799.7 648.5h0M324.5 605.0h0M784.8 648.2h0M664.9 646.5h0M878.2 653.0h0M681.7 646.2h0M465.6 622.2h0M785.2 655.9h0M875.8 655.6h0M700.0 641.7h0M844.1 653.7h0M857.5 650.9h0M635.0 642.2h0M672.1 639.3h0M499.3 627.8h0M419.6 616.2h0M400.4 616.7h0M791.4 656.1h0M856.6 651.5h0M804.5 651.6h0M741.6 646.0h0M873.0 662.0h0M733.6 651.0h0M849.0 656.5h0M664.6 638.7h0M812.1 655.1h0M603.4 635.9h0M701.9 645.6h0M837.1 657.0h0M341.6 608.0h0M706.3 646.5h0M637.0 643.6h0M524.1 633.8h0M558.8 630.2h0M781.5 655.8h0M665.7 640.0h0M804.1 651.6h0M519.9 628.7h0M775.7 652.3h0M851.6 652.5h0M691.3 645.7h0M459.4 625.4h0M822.3 651.2h0M363.5 610.7h0M752.5 653.2h0M819.7 656.5h0M802.4 647.7h0M808.4 651.5h0M452.1 625.2h0M653.8 639.0h0M566.8 634.6h0M316.6 602.8h0M343.1 607.0h0M599.3 633.6h0M859.8 652.3h0M330.1 604.4h0M867.1 658.4h0M493.6 630.4h0M713.0 647.0h0M484.8 628.4h0M843.1 650.9h0M376.6 610.9h0M684.4 640.9h0M466.5 622.1h0M411.7 619.6h0M724.9 651.9h0M846.2 656.3h0M572.8 638.8h0M731.9 648.2h0M778.1 646.4h0M662.8 639.6h0M571.5 636.1h0M676.8 640.1h0M787.6 655.7h0M835.8 653.8h0M499.4 631.2h0M732.8 643.4h0M408.1 618.9h0M791.0 650.9h0M469.7 624.8h0M339.2 605.7h0M709.7 646.8h0M340.3 605.5h0M826.2 657.4h0M691.1 644.3h0M512.6 628.6h0M543.5 632.3h0M489.1 625.0h0M783.1 648.6h0M757.9 646.8h0M690.0 641.9h0M743.0 643.6h0M657.1 638.2h0M863.9 659.8h0M504.4 625.3h0M836.1 657.8h0M806.3 657.8h0M661.4 644.0h0M423.3 621.3h0M635.7 641.7h0M809.5 650.5h0M358.1 610.1h0M763.0 652.4h0M374.3 611.0h0M580.6 632.5h0M870.5 655.6h0M625.5 636.8h0M579.8 638.0h0M371.1 610.2h0M815.6 652.1h0M472.2 625.8h0M876.7 662.7h0M801.3 655.6h0M678.0 642.9h0M470.9 624.7h0M352.1 609.1h0M831.2 653.3h0M376.1 613.0h0M516.3 630.5h0M605.8 634.6h0M833.3 650.6h0M340.3 607.5h0M647.3 638.5h0M653.0 641.8h0M463.0 626.3h0M744.2 645.5h0M659.4 641.6h0M595.7 638.6h0M585.4 637.3h0M757.4 645.6h0M531.1 628.2h0M739.7 648.0h0M773.3 653.9h0M434.3 622.1h0M530.2 631.5h0M630.4 641.5h0M346.8 609.4h0M856.4 660.4h0M734.7 646.2h0M334.3 606.5h0M738.4 645.2h0M770.0 649.5h0M493.6 627.1h0M843.9 659.9h0M541.4 633.8h0M503.3 628.3h0M586.8 633.9h0M815.2 655.8h0M330.2 605.8h0M536.3 631.4h0M320.6 604.3h0M361.6 609.3h0M715.2 648.0h0M671.5 641.4h0M864.5 656.6h0M684.8 645.9h0M417.6 617.7h0M558.2 631.1h0M799.2 656.6h0M870.1 651.9h0M402.2 614.2h0M504.5 630.7h0M659.8 639.9h0M712.2 643.4h0M792.2 648.9h0M512.9 627.1h0M721.3 645.3h0M498.5 624.4h0M584.2 639.4h0M420.6 617.1h0M486.7 624.6h0M490.2 626.5h0M782.7 649.2h0M475.8 623.6h0M365.8 609.0h0M828.7 652.3h0M491.3 628.1h0M411.0 616.1h0M459.7 624.2h0M697.2 645.4h0M411.8 617.4h0M421.2 619.0h0M483.1 625.3h0M806.1 650.9h0M313.5 603.0h0M617.9 637.5h0M595.2 637.4h0M471.1 624.3h0M657.2 644.1h0M438.3 617.8h0M471.0 623.8h0M543.1 633.7h0M449.8 619.8h0M340.0 607.7h0M774.5 650.8h0M660.8 642.4h0M862.0 660.6h0M678.8 646.4h0M354.9 608.7h0M545.8 635.8h0M619.1 637.4h0M345.7 608.8h0M651.5 643.5h0M710.7 642.1h0M769.5 647.9h0M558.3 635.7h0M392.9 612.8h0M493.4 629.3h0M792.6 647.6h0M794.4 646.9h0M436.8 620.2h0M416.3 619.1h0M484.8 624.4h0M543.7 632.0h0M791.0 655.5h0M477.4 625.7h0M643.3 641.9h0M794.9 657.2h0M540.4 635.0h0M509.6 629.0h0M307.3 600.9h0M722.0 647.5h0M384.5 611.7h0M877.7 660.0h0M417.8 618.2h0M459.2 624.3h0M408.1 615.9h0M734.6 646.3h0M475.9 623.2h0M836.1 654.5h0M396.5 613.8h0M320.6 603.7h0M820.6 649.8h0M859.3 657.2h0M361.3 608.4h0M462.7 626.1h0M807.0 655.0h0M653.2 641.0h0M600.1 634.4h0M760.1 651.3h0M491.7 627.2h0M386.6 612.1h0M435.5 620.9h0M739.3 645.2h0M777.5 651.6h0M840.8 656.7h0M670.1 640.0h0M536.8 628.8h0M482.8 625.7h0M780.6 650.9h0M410.3 615.1h0M324.1 604.3h0M870.4 662.3h0M308.9 600.7h0M765.8 653.9h0M850.9 657.7h0M772.4 654.4h0M815.4 658.2h0M363.3 611.5h0M530.3 629.5h0M753.2 653.2h0M751.1 648.6h0M421.6 616.7h0M830.9 654.0h0M801.8 657.6h0M630.8 637.1h0M526.1 632.6h0M724.4 652.0h0M863.3 653.1h0M858.1 654.1h0M797.1 652.0h0M442.5 623.2h0M718.8 651.0h0M775.3 651.2h0M796.1 654.9h0M603.6 637.0h0M429.6 620.3h0M830.1 654.5h0M389.2 614.4h0M848.7 654.5h0M834.5 650.1h0M682.9 645.5h0M789.0 650.5h0M613.4 636.9h0M353.5 607.3h0M834.3 658.3h0M865.3 651.9h0M861.3 660.7h0M435.6 619.2h0M872.9 660.0h0M860.4 655.0h0M839.9 654.9h0M624.7 636.3h0M813.0 655.9h0M488.9 628.0h0M653.7 644.0h0M600.4 636.1h0M728.4 643.0h0M491.1 627.4h0M797.6 650.9h0M314.8 601.7h0M385.6 612.1h0M770.8 646.9h0M825.8 649.7h0M728.8 648.6h0M458.1 621.4h0M553.7 632.1h0M805.3 653.7h0M826.1 654.5h0M517.0 632.2h0M326.5 604.8h0M623.7 642.0h0M362.5 610.8h0M572.7 636.9h0M833.0 649.2h0M592.7 638.8h0M810.1 648.8h0M831.3 650.4h0M783.1 654.2h0M550.4 629.3h0M733.2 644.4h0M733.9 650.3h0M314.7 602.8h0M377.0 611.1h0M859.7 661.6h0M730.5 643.9h0M649.1 642.2h0M456.1 624.8h0M542.6 633.2h0M769.3 654.1h0M735.1 647.2h0M406.2 615.1h0M364.6 612.2h0M759.1 649.4h0M524.9 631.4h0M410.4 619.0h0M800.2 657.2h0M608.1 638.8h0M379.6 612.4h0M519.9 631.2h0M694.0 648.9h0M623.0 639.0h0M647.6 641.3h0M437.2 621.9h0M460.0 623.1h0M402.4 614.4h0M824.5 652.6h0M865.1 654.2h0M401.9 613.8h0M505.6 629.3h0M878.5 654.1h0M781.3 653.7h0M765.3 654.9h0M708.7 648.1h0M859.6 653.3h0M815.4 655.2h0M416.5 618.9h0M822.0 651.1h0M625.2 642.2h0M442.5 623.8h0M833.8 653.1h0M761.4 649.1h0M702.1 643.0h0M494.0 629.7h0M796.5 647.2h0M870.0 655.2h0M340.5 607.8h0M850.0 655.3h0M860.2 653.1h0M804.5 651.7h0M531.8 630.6h0M678.2 639.7h0M565.7 632.3h0M473.8 626.5h0M624.6 637.3h0M860.7 661.5h0M505.7 628.4h0M764.6 645.5h0M836.8 656.7h0M452.7 622.6h0M874.5 652.9h0M757.6 651.5h0M645.2 638.8h0M417.0 617.2h0M613.1 639.1h0M855.3 655.3h0M792.3 654.6h0M610.6 642.6h0M442.8 621.7h0M580.4 636.0h0M573.3 632.7h0M570.3 638.5h0M807.9 650.0h0M865.9 657.9h0M638.2 642.5h0M704.4 648.8h0M406.2 618.5h0M809.4 657.8h0M320.7 603.5h0M845.6 653.8h0M806.0 654.2h0M847.6 657.0h0M528.5 630.7h0M832.5 659.1h0M839.2 653.8h0M830.1 651.8h0M612.5 637.3h0M751.1 653.9h0M651.0 640.1h0M850.0 654.6h0M454.4 624.1h0M836.2 656.0h0M760.5 649.3h0M848.5 653.7h0M374.4 612.7h0M659.8 640.7h0M619.5 641.9h0M767.6 654.9h0M778.8 653.3h0M859.4 661.6h0M828.1 650.9h0M677.5 644.2h0M799.1 650.9h0M611.0 640.3h0M754.4 647.7h0M842.9 650.4h0M871.7 659.4h0M868.2 657.3h0M564.9 634.7h0M868.3 656.1h0M810.4 657.4h0M629.4 637.9h0M417.6 615.5h0M494.1 626.9h0M760.7 648.0h0M575.5 636.8h0M715.4 649.8h0M348.9 608.0h0M482.5 626.7h0M699.1 642.1h0M754.3 647.7h0M468.0 626.8h0M524.4 630.0h0M382.2 612.6h0M600.7 639.4h0M844.2 655.1h0M689.1 642.9h0M544.1 633.2h0M854.8 653.7h0M553.1 631.5h0M862.9 661.3h0M406.2 616.9h0M524.2 627.2h0M788.0 656.1h0M863.5 659.1h0M839.7 660.3h0M720.6 649.0h0M382.2 614.2h0M644.7 643.6h0M626.0 636.4h0M345.3 606.8h0M376.6 610.4h0M776.3 650.7h0M854.0 652.4h0M856.8 658.6h0M844.6 659.1h0M488.1 629.3h0M426.8 617.0h0M631.6 637.4h0M492.7 627.5h0M850.3 657.1h0M663.8 645.9h0M832.8 653.9h0M739.7 645.4h0M842.7 655.0h0M562.1 635.8h0M816.7 649.8h0M725.5 643.7h0M854.3 658.6h0M666.5 639.9h0M811.7 653.3h0M436.7 621.8h0M635.6 642.3h0M813.5 651.8h0M869.1 652.4h0M751.6 649.0h0M621.1 639.5h0M608.2 635.6h0M818.5 658.7h0M394.1 614.7h0M519.7 628.4h0M712.0 645.9h0M421.6 616.7h0M523.6 633.5h0M812.4 654.8h0M645.0 637.4h0M869.6 660.8h0M640.7 641.6h0M579.6 633.7h0M755.1 651.9h0M860.9 659.6h0M842.2 654.3h0M630.4 639.3h0M816.4 657.5h0M458.6 624.0h0M401.5 614.0h0M525.4 627.0h0M626.0 637.9h0M794.9 651.2h0M436.9 620.5h0M856.2 652.9h0M754.0 650.6h0M517.0 631.5h0M483.2 627.3h0M342.1 607.3h0M490.7 624.1h0M541.0 630.5h0M841.1 651.8h0M509.4 629.2h0M787.1 648.8h0M577.0 634.5h0M576.0 632.9h0M444.7 619.3h0M741.7 647.9h0M396.2 614.8h0M789.4 646.9h0M728.1 650.8h0M564.9 632.7h0M842.0 657.1h0M741.8 648.9h0M485.5 624.0h0M654.9 639.6h0M735.9 648.4h0M710.0 647.8h0M662.3 644.3h0M580.2 636.7h0M443.5 618.4h0M795.1 647.4h0M678.7 645.7h0M810.1 652.0h0M446.8 623.6h0M451.3 621.4h0M354.1 610.5h0M713.2 642.0h0M457.2 624.3h0M777.8 651.6h0M660.4 646.6h0M825.8 656.8h0M573.0 633.0h0M827.7 651.1h0M507.3 631.9h0M824.6 656.1h0M775.2 654.5h0M645.2 645.1h0M496.3 624.5h0M859.1 652.1h0M395.9 617.1h0M858.3 653.8h0M818.0 657.7h0M352.5 607.3h0M687.1 642.2h0M864.8 661.3h0M321.9 604.8h0M585.8 637.8h0M575.1 636.1h0M829.9 659.5h0M374.1 612.1h0M679.3 643.5h0M653.2 644.7h0M483.2 629.1h0M721.4 650.9h0M451.4 621.1h0M564.4 635.7h0M427.4 621.2h0M664.1 644.6h0M466.3 621.5h0M790.4 649.7h0M578.7 636.1h0M816.4 649.9h0M685.9 644.6h0M578.9 636.0h0M860.8 651.0h0M875.8 659.7h0M857.7 653.5h0M557.4 631.2h0M635.7 638.2h0M439.4 623.1h0M486.0 624.3h0M835.8 649.6h0M595.7 633.2h0M643.2 641.6h0M866.5 656.1h0M509.1 631.4h0M490.2 624.6h0M669.6 646.4h0M594.6 637.9h0M371.1 612.3h0M327.2 605.2h0M798.0 653.6h0M867.8 653.9h0M723.4 647.5h0M557.4 633.0h0M430.6 618.6h0M638.2 637.1h0M814.8 653.4h0M648.3 642.4h0M741.0 647.4h0M427.3 621.5h0M791.6 655.4h0M306.0 601.6h0M817.8 657.8h0M569.1 635.9h0M852.3 651.4h0M873.9 659.4h0M821.9 651.7h0M795.2 656.8h0M821.2 656.6h0M437.6 623.1h0M343.5 606.6h0M763.3 646.3h0M307.9 601.8h0M812.4 651.6h0M558.1 632.7h0M514.4 630.8h0M453.5 624.3h0M661.9 640.9h0M866.8 655.8h0M621.6 642.0h0M853.4 659.0h0M734.5 651.4h0M328.4 605.0h0M842.3 654.3h0M774.3 652.6h0M847.6 656.2h0M861.6 658.4h0M741.6 650.3h0M869.6 655.9h0M695.9 641.4h0M864.1 657.5h0M635.8 641.6h0M505.2 625.4h0M713.4 642.1h0M642.4 641.3h0M343.4 607.5h0M650.5 643.1h0M491.9 624.2h0M745.7 648.6h0M644.8 639.4h0M469.3 627.2h0M450.6 624.4h0M684.8 640.1h0M711.9 643.8h0M557.9 636.0h0M775.0 645.6h0M672.1 643.1h0M675.9 639.1h0M750.0 649.6h0M347.8 606.9h0M829.9 659.3h0M636.2 643.6h0M704.3 648.0h0M695.0 644.5h0M632.8 637.3h0M627.1 639.6h0M397.1 616.2h0M498.6 627.5h0M858.9 655.1h0M655.3 645.8h0M855.7 656.2h0M622.6 642.4h0M816.5 652.9h0M478.7 625.9h0M381.0 615.0h0M506.7 626.5h0M710.5 645.0h0M800.7 652.2h0M458.9 621.0h0M588.8 639.1h0M853.4 650.8h0M806.2 650.2h0M830.4 658.0h0M458.7 623.8h0M767.3 650.2h0M579.7 634.7h0M764.0 649.7h0M581.0 638.1h0M806.0 650.2h0M631.0 644.4h0M757.6 651.8h0M367.1 612.6h0M561.1 634.6h0M767.2 648.7h0M331.2 606.6h0M711.9 647.8h0M868.4 657.3h0M829.2 657.5h0M356.4 609.5h0M648.3 644.0h0M827.0 657.6h0M871.1 651.5h0M315.6 602.4h0M785.2 652.4h0M818.4 648.2h0M550.8 630.7h0M853.5 657.4h0M668.3 644.8h0M742.4 647.5h0M646.5 644.2h0M348.9 609.5h0M432.1 620.5h0M302.2 600.4h0M362.4 612.0h0M604.8 634.7h0M701.5 645.9h0M844.3 660.1h0M589.3 633.0h0M587.6 633.8h0M359.4 611.6h0M410.3 615.4h0M515.3 627.6h0M341.5 606.4h0M341.3 608.5h0M868.4 657.7h0M850.3 652.6h0M861.7 659.2h0M834.1 659.4h0M522.5 627.9h0M403.9 613.9h0M838.1 650.3h0M838.6 650.9h0M679.6 645.4h0M833.9 653.8h0M606.9 642.2h0M712.1 648.4h0M569.0 633.5h0M851.7 657.8h0M532.4 631.4h0M841.6 652.6h0M557.2 631.2h0M814.9 653.4h0M358.9 610.0h0M715.8 650.2h0M869.2 655.2h0M501.6 629.7h0M336.3 605.5h0M762.9 649.7h0M807.7 647.6h0M800.4 653.7h0M399.4 614.1h0M826.8 651.8h0M639.1 637.6h0M803.1 649.1h0M388.3 615.7h0M664.2 646.4h0M670.0 640.3h0M742.5 648.9h0M381.3 614.5h0M306.1 601.7h0M481.6 629.1h0M490.3 625.8h0M494.1 627.1h0M680.3 640.1h0M485.1 623.2h0M583.3 638.5h0M847.6 659.0h0M638.2 643.8h0M797.4 652.0h0M835.3 652.7h0M645.2 644.2h0M697.7 646.4h0M397.8 613.0h0M430.8 621.6h0M843.3 657.1h0M652.8 637.6h0M669.2 641.3h0M783.8 651.2h0M869.3 660.5h0M692.3 647.6h0M547.1 636.2h0M845.2 659.3h0M763.7 652.9h0M648.3 641.8h0M602.9 641.9h0M442.0 620.5h0M658.4 644.3h0M421.9 619.4h0M407.9 615.9h0M540.2 629.1h0M858.2 661.3h0M325.1 604.4h0M481.3 628.6h0M497.3 628.1h0M835.3 650.4h0M791.3 647.3h0M745.2 651.2h0M362.4 609.4h0M780.9 647.2h0M818.4 651.0h0M708.6 650.3h0M411.8 615.5h0M609.1 635.7h0M647.2 644.9h0M836.4 659.9h0M456.6 621.7h0M873.4 654.6h0M856.1 650.5h0M619.0 636.3h0M870.3 661.1h0M874.8 651.8h0M515.7 629.8h0M824.2 656.2h0M736.9 649.6h0M615.8 640.0h0M497.3 626.0h0M872.3 656.8h0M658.1 646.3h0M791.3 651.7h0M855.3 660.7h0M486.4 629.1h0M852.2 650.4h0M811.8 650.0h0M779.5 652.7h0M626.8 640.6h0M870.6 661.3h0M324.2 604.7h0M637.5 643.3h0M849.1 656.4h0M382.7 611.1h0M462.6 625.1h0M757.3 651.8h0M417.3 615.8h0M734.9 644.6h0M345.0 609.2h0M342.9 606.6h0M759.9 651.0h0M808.5 650.4h0M525.2 629.3h0M736.3 645.0h0M814.1 653.5h0M801.8 648.1h0M875.5 654.6h0M749.1 648.9h0M515.0 630.4h0M835.7 656.3h0M359.6 609.5h0M843.4 650.0h0M871.7 653.8h0M703.4 646.1h0M384.0 615.6h0M824.3 658.0h0M421.4 620.2h0M471.3 624.2h0M867.7 660.0h0M859.7 658.5h0M497.2 627.1h0M866.4 661.4h0M326.8 603.9h0M810.5 653.0h0M865.5 653.5h0M859.4 661.3h0M867.5 659.3h0M698.4 647.0h0M787.2 646.8h0M736.8 652.9h0M698.1 648.3h0M875.1 662.2h0M685.1 645.3h0M610.9 640.7h0M808.4 654.8h0M591.6 635.9h0M555.2 634.5h0M866.8 655.0h0M807.4 652.0h0M829.8 648.9h0M577.3 637.0h0M813.2 656.2h0M831.0 655.0h0M682.1 641.3h0M525.4 627.4h0M468.9 627.0h0M494.9 624.9h0M856.5 651.9h0M403.3 616.0h0M821.7 656.9h0M857.5 653.9h0M675.8 644.4h0M404.2 614.5h0M719.3 643.0h0M707.5 650.5h0M832.5 657.6h0M866.4 654.0h0M769.0 645.5h0M746.1 646.4h0M852.1 659.9h0M345.3 608.2h0M597.3 634.5h0M659.8 640.8h0M757.6 649.7h0M793.2 654.9h0M741.6 652.4h0M493.0 629.3h0M854.0 658.2h0M634.1 636.7h0M605.6 641.5h0M626.9 640.1h0M829.2 657.2h0M336.0 607.0h0M859.9 651.5h0M864.3 660.2h0M535.1 631.2h0M591.6 639.8h0M866.0 658.9h0M685.3 646.2h0M420.1 619.4h0M462.7 625.7h0M648.9 644.9h0M450.1 622.9h0M794.7 649.0h0M489.7 625.0h0M831.8 657.7h0M869.8 660.1h0M532.8 633.7h0M501.8 631.1h0M850.1 658.7h0M588.8 637.4h0M640.5 638.7h0M457.8 623.9h0M591.0 635.9h0M513.6 626.6h0M847.7 652.3h0M854.5 652.8h0M672.0 646.5h0M873.8 658.3h0M694.2 640.8h0M785.4 647.4h0M460.0 621.5h0M516.4 627.9h0M772.7 647.6h0M774.2 653.7h0M314.2 602.0h0M458.4 625.2h0M802.1 654.8h0M708.3 641.4h0M820.7 654.7h0M739.3 652.5h0M841.2 653.7h0M820.0 648.3h0M653.1 644.3h0M877.6 658.7h0M715.6 651.2h0M701.4 642.3h0M561.3 637.4h0M525.5 630.6h0M453.7 624.7h0M853.3 652.3h0M671.6 647.1h0M602.2 637.6h0M369.5 609.2h0M791.7 657.0h0M396.8 615.2h0M342.2 605.8h0M865.1 660.5h0M341.7 607.0h0M581.5 636.6h0M659.5 645.4h0M620.7 638.2h0M844.1 658.4h0M520.1 633.3h0M592.7 639.5h0M861.7 654.8h0M615.2 642.2h0M410.6 616.4h0M620.2 643.4h0M742.4 643.8h0M700.5 644.1h0M541.6 634.9h0M354.7 607.4h0M758.7 654.0h0M860.2 650.8h0M853.0 650.8h0M499.8 628.7h0M697.1 642.9h0M742.2 645.8h0M646.8 641.8h0M534.6 633.2h0M631.2 636.0h0M748.2 644.9h0M718.9 651.3h0M768.4 653.6h0M748.5 646.0h0M619.7 637.2h0M532.3 634.3h0M604.4 634.5h0M830.0 656.9h0M734.8 648.6h0M688.1 642.2h0M688.5 643.3h0M797.7 653.6h0M762.5 647.2h0M518.2 628.0h0M686.7 646.5h0M319.2 603.6h0M869.5 660.0h0M752.4 652.8h0M750.6 646.2h0M864.7 658.0h0M699.0 644.1h0M410.4 618.3h0M739.0 652.7h0M411.3 616.5h0M625.2 636.2h0M625.4 638.0h0M801.9 648.7h0M720.4 648.1h0M562.7 637.0h0M838.4 652.4h0M860.4 659.0h0M510.3 629.6h0M794.4 650.4h0M487.5 623.3h0M758.5 651.5h0M727.3 645.7h0M728.6 652.3h0M538.5 634.9h0M868.6 658.5h0M836.9 659.0h0M844.0 652.9h0M391.1 612.4h0M819.5 652.3h0M685.3 642.1h0M721.5 651.7h0M650.7 640.6h0M427.4 618.6h0M470.7 623.6h0M363.8 610.2h0M706.5 645.8h0M666.5 643.2h0M615.6 643.0h0M642.4 636.9h0M839.5 658.9h0M394.2 613.9h0M682.7 639.8h0M569.6 638.3h0M649.9 643.4h0M618.2 637.1h0M821.4 649.9h0M602.5 639.9h0M655.7 646.6h0M508.6 625.5h0M596.2 640.6h0M737.1 648.7h0M521.9 628.5h0M805.4 648.4h0M800.1 654.8h0M817.9 657.3h0M331.4 605.4h0M613.1 639.1h0M506.8 627.7h0M403.0 614.3h0M662.5 640.6h0M774.9 651.4h0M721.9 650.4h0M640.0 640.1h0M662.9 646.7h0M561.5 630.9h0M615.7 635.3h0M584.9 636.7h0M638.4 641.2h0M865.0 661.3h0M621.0 640.8h0M772.3 649.7h0M395.5 616.1h0M452.9 621.1h0M755.5 652.7h0M851.1 651.5h0M570.5 637.0h0M792.4 654.4h0M843.5 659.4h0M870.0 659.6h0M810.7 649.8h0M519.2 631.0h0M850.5 654.1h0M857.6 653.0h0M527.3 628.6h0M399.4 615.3h0M647.4 638.8h0M687.6 649.1h0M868.6 657.9h0M550.2 636.3h0M621.1 643.5h0M761.6 646.7h0M674.9 647.7h0M673.5 647.7h0M563.4 637.6h0M844.4 653.5h0M683.9 642.5h0M330.1 604.7h0M799.3 654.7h0M863.7 660.2h0M732.2 648.2h0M646.6 642.8h0M471.2 622.9h0M465.1 625.3h0M847.3 652.0h0M859.9 661.2h0M756.0 647.4h0M738.7 644.5h0M681.0 644.2h0M593.7 635.6h0M401.3 614.3h0M557.2 632.0h0M721.9 649.8h0M675.8 646.4h0M313.5 602.7h0M837.3 658.5h0M664.0 643.5h0M851.8 660.0h0M440.2 620.9h0M861.5 660.3h0M690.5 649.0h0M832.3 657.9h0M520.0 627.2h0M575.0 639.2h0M767.0 645.1h0M652.7 639.5h0M666.2 641.5h0M650.4 642.2h0M761.0 644.9h0M337.1 607.4h0M498.4 628.4h0M850.1 655.9h0M469.1 622.5h0M758.0 651.3h0M831.1 654.1h0M856.8 652.4h0M768.5 648.5h0M807.3 650.9h0M521.4 629.3h0M614.5 641.2h0M580.3 638.1h0M747.3 644.4h0M851.9 654.5h0M838.9 651.8h0M719.5 646.7h0M864.5 658.7h0M867.9 659.7h0M676.7 639.9h0M348.6 606.4h0M859.0 651.3h0M605.0 637.4h0M629.6 642.2h0M481.9 624.1h0M531.6 628.7h0M583.6 638.5h0M784.2 648.1h0M606.6 641.8h0M472.6 624.0h0M471.0 625.2h0M864.7 659.8h0M462.6 626.5h0M603.2 638.7h0M851.5 659.3h0M854.5 659.9h0M771.7 648.8h0M704.8 648.7h0M564.4 632.2h0M400.2 618.0h0M519.0 626.6h0M801.6 649.5h0M512.7 628.4h0M451.1 622.4h0M318.2 603.3h0M811.5 657.8h0M512.1 628.7h0M780.8 650.0h0M495.8 627.0h0M438.2 618.2h0M672.6 646.2h0M637.6 643.8h0M531.8 632.5h0M867.7 659.5h0M840.7 653.4h0M847.6 659.1h0M349.5 606.9h0M673.8 642.6h0M800.9 655.1h0M527.8 629.1h0M766.6 654.3h0M644.2 639.5h0M854.6 660.7h0M336.1 607.0h0M858.5 660.2h0M524.7 631.9h0M694.1 642.8h0M538.6 634.6h0M802.9 652.6h0M634.6 638.1h0M792.4 651.8h0M508.0 632.1h0M352.1 607.0h0M768.2 648.6h0M616.0 635.2h0M623.1 643.8h0M432.9 620.8h0M628.2 637.6h0M826.6 659.4h0M867.5 651.3h0M703.1 644.7h0M427.8 618.7h0M698.6 642.9h0M662.5 642.9h0M571.1 638.6h0M660.4 645.6h0M720.9 649.9h0M844.8 654.7h0M465.5 626.0h0M870.4 655.6h0M600.0 634.3h0M454.9 624.9h0M799.1 656.2h0M450.6 622.3h0M808.7 652.7h0M865.1 657.3h0M818.8 655.7h0M603.8 639.0h0M558.3 631.8h0M544.7 635.5h0M319.0 602.2h0M502.7 625.5h0M390.8 616.3h0M807.6 648.6h0M826.2 654.2h0M801.3 651.7h0M379.2 611.2h0M361.0 610.3h0M754.4 645.6h0M432.3 621.8h0M817.7 648.2h0M844.2 656.0h0M863.1 654.9h0M597.3 633.4h0M493.4 628.4h0M781.7 650.5h0M484.4 624.5h0M646.3 639.2h0M418.6 618.5h0M660.5 638.6h0M866.0 657.7h0M304.2 600.6h0M413.0 617.2h0M851.1 654.1h0M528.5 629.3h0M686.2 645.2h0M821.8 657.3h0M513.8 632.1h0M466.8 621.5h0M871.3 652.5h0M360.4 610.3h0M875.9 653.3h0M385.6 614.9h0M465.8 622.6h0M607.7 634.1h0M629.6 638.6h0M783.9 654.8h0M848.6 658.6h0M750.2 645.7h0M860.4 656.1h0M779.7 652.6h0M743.1 645.9h0M347.8 607.7h0M356.7 609.2h0M418.6 618.1h0M713.6 650.4h0M751.2 651.2h0M496.5 627.3h0M620.9 641.9h0M712.8 647.6h0M636.0 643.9h0M668.6 641.1h0M838.3 656.7h0M608.8 641.6h0M727.7 647.6h0M840.7 657.7h0M632.6 641.6h0M718.8 647.0h0M736.0 645.9h0M746.2 652.0h0M693.5 648.7h0M794.2 654.1h0M853.5 656.9h0M688.6 645.1h0M867.8 659.2h0M871.5 659.0h0M523.7 633.4h0M528.2 628.8h0M869.4 654.1h0M564.2 637.8h0M819.8 654.3h0M719.3 650.4h0M850.3 654.5h0M762.4 652.9h0M546.8 633.6h0M428.0 621.4h0M588.8 636.5h0M769.8 649.0h0M854.4 655.8h0M703.1 645.6h0M637.6 637.0h0M623.8 642.0h0M427.8 618.0h0M350.5 609.9h0M528.8 634.4h0M783.9 656.1h0M670.0 641.9h0M377.3 612.0h0M422.4 616.2h0M558.7 633.5h0M732.2 648.3h0M533.5 630.1h0M752.2 646.3h0M328.8 604.0h0" stroke="#ffffff" stroke-width="1" stroke-linecap="square" fill="none"/>
<path d="M679.8 643.5h0M815.1 657.3h0M493.7 627.5h0M728.0 643.6h0M583.6 637.6h0M335.8 604.6h0M651.5 642.7h0M393.4 615.4h0M737.4 648.3h0M576.0 636.8h0M351.5 607.5h0M770.5 646.4h0M433.5 619.4h0M533.3 628.4h0M807.8 656.7h0M448.2 619.9h0M820.0 650.1h0M876.8 656.3h0M664.2 640.8h0M521.4 632.4h0M519.0 630.1h0M565.3 635.1h0M546.4 635.9h0M662.0 638.9h0M499.1 630.1h0M851.7 652.1h0M775.1 651.6h0M878.2 652.6h0M597.3 637.2h0M557.4 633.4h0M485.0 627.5h0M475.9 622.6h0M846.9 653.8h0M800.9 650.4h0M826.7 653.6h0M652.5 640.6h0M627.4 637.2h0M404.0 618.6h0M727.9 642.7h0M486.6 626.1h0M776.7 651.8h0M839.5 659.5h0M856.8 660.7h0M318.8 604.1h0M763.0 652.1h0M661.6 642.7h0M725.4 646.2h0M589.7 633.3h0M852.1 651.7h0M761.2 650.8h0M384.1 613.9h0M585.5 640.1h0M796.8 652.4h0M550.6 635.9h0M729.5 644.0h0M561.4 631.6h0M619.3 643.1h0M406.6 616.6h0M844.2 657.9h0M380.7 611.1h0M713.8 644.3h0M542.6 630.1h0M732.0 649.4h0M533.3 627.8h0M839.6 655.0h0M869.3 656.9h0M827.4 658.2h0M781.2 646.5h0M788.7 655.6h0M595.7 634.4h0M730.9 643.5h0M600.1 640.4h0M675.2 647.5h0M419.2 620.7h0M872.9 657.8h0M546.0 632.4h0M737.9 651.9h0M668.7 643.2h0M837.8 656.6h0M471.7 623.8h0M657.7 640.2h0M376.9 610.4h0M706.3 643.1h0M422.8 617.6h0M815.2 651.1h0M522.9 632.4h0M416.4 616.3h0M747.5 646.6h0M778.8 650.0h0M853.3 655.2h0M715.9 646.2h0M569.8 638.5h0M666.4 641.0h0M846.0 658.7h0M672.1 647.0h0M586.9 636.0h0M582.6 637.8h0M832.7 658.7h0M630.1 642.8h0M733.7 649.8h0M617.8 636.1h0M809.5 653.9h0M629.7 641.5h0M690.4 641.1h0M611.2 637.1h0M750.8 648.4h0M411.6 617.7h0M694.6 646.0h0M410.2 615.2h0M786.3 646.9h0M774.8 654.4h0M671.0 640.5h0M714.7 647.6h0M802.6 649.0h0M509.0 626.3h0M616.1 638.3h0M663.4 647.2h0M771.4 652.3h0M801.8 652.7h0M654.4 642.4h0M484.3 627.4h0M601.9 641.2h0M355.5 608.6h0M695.4 645.3h0M801.9 654.1h0M835.4 659.0h0M675.4 640.1h0M557.6 634.7h0M799.5 653.9h0M620.5 641.2h0M658.9 645.3h0M610.0 638.7h0M750.5 644.8h0M703.8 644.3h0M558.2 636.7h0M771.5 652.3h0M715.8 642.9h0M492.2 624.9h0M657.9 638.3h0M835.4 659.3h0M696.1 643.0h0M807.7 656.1h0M417.1 617.8h0M741.0 645.6h0M837.5 649.9h0M636.1 638.3h0M726.8 646.5h0M803.7 648.7h0M744.6 647.6h0M667.9 642.0h0M527.8 632.9h0M875.5 661.6h0M430.4 622.0h0M589.8 638.1h0M552.6 636.9h0M513.9 625.9h0M511.9 628.7h0M757.5 644.6h0M713.7 648.8h0M441.8 622.2h0M362.1 609.9h0M661.9 640.9h0M589.4 640.0h0M341.5 605.9h0M515.4 632.0h0M767.7 649.8h0M828.0 649.3h0M503.5 627.3h0M636.1 639.8h0M664.3 639.1h0M447.0 619.1h0M870.4 659.4h0M695.5 642.0h0M464.2 623.8h0M583.2 633.0h0M705.7 649.0h0M733.2 648.7h0M411.0 619.4h0M733.6 643.6h0M527.2 630.8h0M558.7 636.8h0M846.8 651.4h0M774.0 651.4h0M539.7 630.1h0M704.0 643.3h0M474.7 624.0h0M721.6 643.4h0M722.7 646.3h0M305.9 600.9h0M513.3 630.3h0M588.9 639.1h0M330.4 605.6h0M445.1 620.4h0M552.9 636.4h0M861.2 652.2h0M544.6 632.0h0M557.9 630.6h0M547.2 636.5h0M437.2 621.0h0M763.0 651.1h0M328.8 604.2h0M754.3 645.2h0M674.4 645.8h0M705.6 641.4h0M824.6 649.7h0M596.4 633.8h0M316.8 603.4h0M341.2 605.6h0M715.2 643.2h0M562.1 632.9h0M754.2 646.3h0M619.4 642.2h0M605.0 641.8h0M628.3 639.2h0M624.3 637.8h0M579.9 638.2h0M821.0 658.6h0M597.9 639.3h0M760.6 648.1h0M592.6 637.1h0M426.9 618.0h0M808.7 652.6h0M869.6 657.5h0M548.2 629.1h0M696.8 643.5h0M853.4 658.4h0M832.4 654.3h0M414.0 618.0h0M671.9 647.6h0M833.3 653.0h0M838.2 658.0h0M746.9 648.0h0M525.7 629.0h0M383.8 614.6h0M844.8 658.2h0M544.9 630.5h0M637.3 644.5h0M552.5 633.2h0M770.2 645.6h0M332.8 605.7h0M348.6 609.2h0M802.5 652.2h0M869.8 655.2h0M360.3 608.6h0M725.0 651.5h0M442.4 619.9h0M759.6 650.2h0M523.7 627.9h0M819.0 650.5h0M488.2 625.2h0M726.3 647.5h0M851.9 653.3h0M739.2 644.0h0M561.7 633.4h0M314.2 602.7h0M403.3 618.3h0M350.9 608.0h0M860.1 656.4h0M447.3 624.3h0M794.6 648.8h0M804.9 649.7h0M784.1 650.7h0M836.7 655.0h0M818.5 657.8h0M522.4 633.0h0M373.7 613.0h0M383.3 614.7h0M430.4 617.7h0M793.4 650.6h0M558.3 631.0h0M506.4 631.8h0M809.3 657.5h0M463.4 624.3h0M759.1 649.4h0M809.4 648.4h0M330.9 605.6h0M803.7 647.4h0M714.7 643.3h0M494.4 629.4h0M614.4 642.7h0M807.2 650.0h0M621.4 641.0h0M526.7 632.3h0M580.5 633.2h0M594.0 633.2h0M443.7 624.1h0M533.2 634.4h0M735.0 644.9h0M353.2 610.4h0M876.8 656.9h0M418.1 617.6h0M779.2 646.3h0M483.1 623.2h0M763.9 649.9h0M408.5 617.7h0M643.1 641.4h0M776.2 648.6h0M630.1 643.5h0M547.0 635.6h0M687.3 641.0h0M637.9 644.3h0M709.2 647.2h0M437.5 620.3h0M407.3 617.3h0M719.0 643.7h0M468.4 622.1h0M748.8 647.9h0M873.2 652.1h0M397.2 615.3h0M685.0 642.7h0M868.0 660.2h0M719.3 647.7h0M486.2 623.1h0M358.1 611.0h0M633.4 639.0h0M825.8 658.9h0M570.5 634.5h0M451.6 624.2h0M687.6 648.0h0M824.0 651.4h0M796.0 654.9h0M718.7 647.6h0M688.3 648.8h0M619.0 638.4h0M446.8 621.3h0M402.6 617.9h0M806.6 650.9h0M774.7 648.8h0M851.7 654.4h0M773.2 647.8h0M867.5 652.6h0M626.2 644.1h0M874.8 654.8h0M857.1 658.7h0M775.4 650.3h0M844.5 651.0h0M716.9 648.0h0M413.6 619.2h0M832.5 659.2h0M306.1 601.4h0M668.3 640.9h0M556.9 632.0h0M636.0 639.9h0M749.6 653.8h0M479.3 623.1h0M791.2 650.2h0M390.8 616.4h0M727.8 648.8h0M692.4 647.1h0M798.8 651.9h0M439.6 618.2h0M646.0 639.2h0M833.6 651.1h0M867.8 661.3h0M638.8 642.2h0M510.3 632.2h0M396.1 613.2h0M723.7 642.5h0M379.0 611.5h0M724.2 650.9h0M340.0 607.8h0M869.9 652.3h0M859.5 654.6h0M871.5 652.0h0M532.2 630.3h0M818.7 654.8h0M527.4 628.0h0M805.5 657.7h0M388.0 611.8h0M704.9 641.6h0M824.0 656.0h0M570.8 632.2h0M617.0 635.4h0M447.4 619.9h0M477.5 622.6h0M704.2 644.2h0M573.1 635.2h0M839.2 653.4h0M801.7 657.5h0M735.3 647.0h0M511.1 630.3h0M324.9 605.1h0M456.8 620.3h0M649.6 645.4h0M658.7 639.8h0M812.9 648.8h0M752.6 648.5h0M534.7 634.1h0M798.0 650.0h0M313.2 601.8h0M445.5 619.0h0M451.1 622.1h0M513.5 630.0h0M612.8 639.9h0M444.7 622.1h0M724.3 642.9h0M625.4 643.7h0M671.3 646.5h0M828.6 657.4h0M370.6 613.2h0M390.0 612.5h0M826.6 653.1h0M630.8 639.2h0M628.0 637.8h0M483.5 623.1h0M519.1 628.5h0M434.9 619.9h0M775.7 645.6h0M594.4 633.3h0M478.4 628.4h0M480.1 625.7h0" stroke="#c8c8c8" stroke-width="1" stroke-linecap="square" fill="none"/>
<polygon points="832.0,655.2 879.0,655.5 879.0,660.3" fill="#c8c8c8"/>
</g>
</g>
<text class="f" x="223.2" y="848.4">/data/P4STORE/UGC05336/SERSIC_NS/UGC05336_d.outgal_profile</text>
<text class="f" x="1090.6" y="848.4" text-anchor="end" xml:space="preserve">s4g@fys091005  Fri Jun  6 08:46:23 2014</text>
</svg>
</body></html>
